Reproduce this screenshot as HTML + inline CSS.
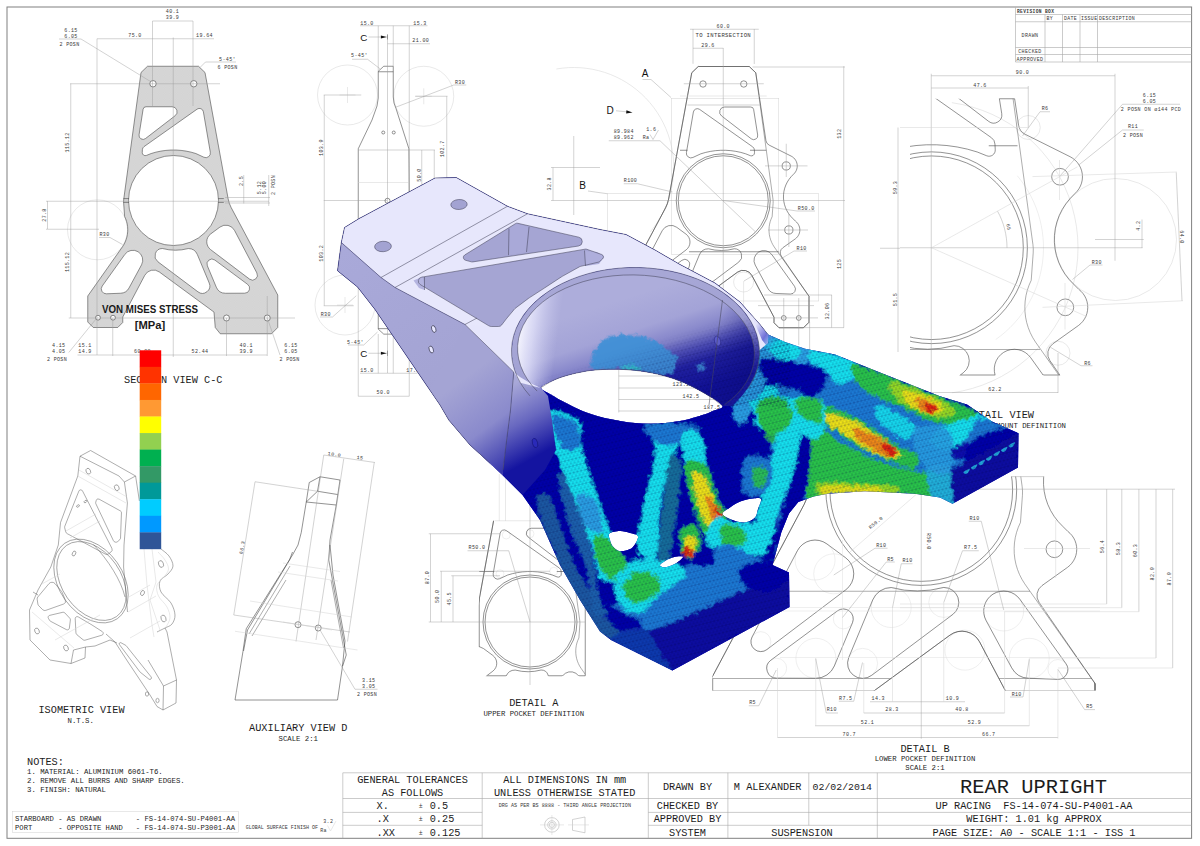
<!DOCTYPE html>
<html lang="en"><head><meta charset="utf-8"><title>Rear Upright - FS-14-074-SU-P4001-AA</title><style>
html,body{margin:0;padding:0;background:#fff}
svg{display:block}
.k{fill:none;stroke:#444;stroke-width:.58}
.k2{fill:none;stroke:#5c5c5c;stroke-width:.5}
.g{fill:none;stroke:#9c9c9c;stroke-width:.45}
.l{fill:none;stroke:#d2d2d2;stroke-width:.5}
.ll{fill:none;stroke:#dedede;stroke-width:.5}
.w{fill:#fff;stroke:#3c3c3c;stroke-width:.6}
.ar{fill:#111;stroke:none}
text{font-family:"Liberation Mono",monospace;fill:#1a1a1a}
.d{fill:#383838;letter-spacing:.35px}
.s{font-family:"Liberation Sans",sans-serif;fill:#111}
.b{font-family:"Liberation Sans",sans-serif;font-weight:bold;fill:#1a1a1a}
.m{fill:none;stroke:#00003a;stroke-width:.4;stroke-opacity:.36}
.tb{fill:none;stroke:#a8a8a8;stroke-width:.6}
.t{fill:#1c1c1c}
.e{fill:none;stroke:#45455c;stroke-width:.55}
</style></head><body>
<svg width="1200" height="846" viewBox="0 0 1200 846">
<defs>
<path id="pf" vector-effect="non-scaling-stroke" d="M-25 -134.25L26 -134.25L32.5 -128L42.69 -60.09A6 6 0 0 0 45.94 -55.61L67.96 -44.62L69.27 -43.83L70.47 -42.88L71.52 -41.76L72.4 -40.51L73.1 -39.15L73.61 -37.71L73.91 -36.21L74 -34.68L73.88 -33.15L73.54 -31.66L73 -30.23L72.27 -28.88L71.36 -27.65L70.29 -26.56L67.98 -24.16L65.88 -21.56L64.07 -18.74L62.6 -15.75L61.46 -12.6L60.68 -9.35L60.27 -6.03L60.23 -2.69L60.56 0.63L61.26 3.9L62.32 7.07L63.72 10.11L65.46 12.97L67.5 15.61L69.82 18.02L72.2 20.4L73.32 21.36L74.29 22.46L75.11 23.68L75.76 24.99L76.23 26.38L76.51 27.82L76.6 29.29L76.49 30.75L76.19 32.19L75.7 33.57L75.02 34.87L74.18 36.08L73.19 37.16L72.07 38.1L59.5 47.07A6 6 0 0 0 58.05 55.36L85.75 95.5L85.75 121.5L80.25 127L55.75 127L50.75 122L50.75 116.5L28.73 74.8A9.85 9.85 0 0 0 14.19 71.46L-40.5 111.6L-41.75 127L-46.75 133.25L-98 133.25L-104.25 127L-104.25 94.5L-57.69 7.11A30 30 0 0 0 -54.66 -1.59L-31.5 -128Z"/>
<path id="ps" vector-effect="non-scaling-stroke" d="M-25 -134.25L26 -134.25L32.5 -128L49.72 -1.57A20 20 0 0 1 49.85 2.58L48.88 15.96L47.81 18.38L46.95 20.89L46.32 23.46L45.92 26.08L45.76 28.72L45.82 31.37L46.12 34L46.65 36.59L47.41 39.13L48.38 41.59L49.57 43.95L50.97 46.21L85.75 95.5L85.75 121.5L80.25 127L55.75 127L50.75 122L50.75 116.5L28.73 74.8A9.85 9.85 0 0 0 14.19 71.46L-40.5 111.6L-41.75 127L-46.75 133.25L-98 133.25L-104.25 127L-104.25 94.5L-57.69 7.11A30 30 0 0 0 -54.66 -1.59L-31.5 -128Z"/>
<path id="pk" vector-effect="non-scaling-stroke" d="M-14.82 48.05A50.6 50.6 0 0 0 11.09 48A7.4 7.4 0 0 1 15.54 61.32L-24.46 91.32A7.4 7.4 0 0 1 -35.73 82.56L-23.89 54.11A9.85 9.85 0 0 1 -14.82 48.05ZM48.61 53.87L71.28 85.55A4.9 4.9 0 0 1 67.11 93.3L52.82 92.74A9.85 9.85 0 0 1 44.54 87.59L31.94 64.29A9.85 9.85 0 0 1 48.61 53.87ZM-33.88 65.39L-42.82 86.71A9.85 9.85 0 0 1 -51.93 92.75L-71.21 92.7A4.9 4.9 0 0 1 -74.12 83.86L-41.32 59.56A4.9 4.9 0 0 1 -33.88 65.39ZM-46.45 26.58L-37.25 33.38A9.85 9.85 0 0 1 -37.15 49.15L-76.04 78.61A4.9 4.9 0 0 1 -83.34 72.42L-61.02 29.92A9.85 9.85 0 0 1 -46.45 26.58ZM-1.66 -84.79A5 5 0 0 1 1.39 -93.75L27.44 -93.75A3 3 0 0 1 30.4 -91.22L34.43 -65.72A4 4 0 0 1 28.04 -61.93ZM-29.87 -88.75A4 4 0 0 1 -23.62 -91.35L29.41 -53.92A4 4 0 0 1 31.1 -50.86L31.25 -48.05A3.04 3.04 0 0 1 27.09 -45.07L22.4 -46.95L17.54 -48.35L12.59 -49.4L7.58 -50.1L2.53 -50.46L-2.53 -50.46L-7.58 -50.1L-12.59 -49.4L-17.54 -48.35L-22.4 -46.95L-30.35 -43.28A4.6 4.6 0 0 1 -36.82 -48.23Z"/>
<path id="ph" vector-effect="non-scaling-stroke" d="M-23.45 -116.75a3.2 3.2 0 1 0 6.4 0a3.2 3.2 0 1 0 -6.4 0ZM17.3 -116.75a3.2 3.2 0 1 0 6.4 0a3.2 3.2 0 1 0 -6.4 0ZM58.1 117.2a2.4 2.4 0 1 0 4.8 0a2.4 2.4 0 1 0 -4.8 0ZM73.1 117.2a2.4 2.4 0 1 0 4.8 0a2.4 2.4 0 1 0 -4.8 0ZM-56 117.5a3 3 0 1 0 6 0a3 3 0 1 0 -6 0ZM-96.75 117.5a3 3 0 1 0 6 0a3 3 0 1 0 -6 0Z"/>
<path id="plh" vector-effect="non-scaling-stroke" d="M58.9 -34.8a4.1 4.1 0 1 0 8.2 0a4.1 4.1 0 1 0 -8.2 0ZM61.5 29.2a4.1 4.1 0 1 0 8.2 0a4.1 4.1 0 1 0 -8.2 0Z"/>
<path id="pcc" vector-effect="non-scaling-stroke" d="M-24.65 57.9a9.85 9.85 0 1 0 19.7 0a9.85 9.85 0 1 0 -19.7 0ZM3.7 55.4a7.4 7.4 0 1 0 14.8 0a7.4 7.4 0 1 0 -14.8 0ZM-36.3 85.4a7.4 7.4 0 1 0 14.8 0a7.4 7.4 0 1 0 -14.8 0ZM30.75 59.6a9.85 9.85 0 1 0 19.7 0a9.85 9.85 0 1 0 -19.7 0ZM62.4 88.4a4.9 4.9 0 1 0 9.8 0a4.9 4.9 0 1 0 -9.8 0ZM43.35 82.9a9.85 9.85 0 1 0 19.7 0a9.85 9.85 0 1 0 -19.7 0ZM-43.3 63.5a4.9 4.9 0 1 0 9.8 0a4.9 4.9 0 1 0 -9.8 0ZM-61.75 82.9a9.85 9.85 0 1 0 19.7 0a9.85 9.85 0 1 0 -19.7 0ZM-76.1 87.8a4.9 4.9 0 1 0 9.8 0a4.9 4.9 0 1 0 -9.8 0ZM-62.15 34.5a9.85 9.85 0 1 0 19.7 0a9.85 9.85 0 1 0 -19.7 0ZM-52.95 41.3a9.85 9.85 0 1 0 19.7 0a9.85 9.85 0 1 0 -19.7 0ZM-83.9 74.7a4.9 4.9 0 1 0 9.8 0a4.9 4.9 0 1 0 -9.8 0ZM11.65 78.9a9.85 9.85 0 1 0 19.7 0a9.85 9.85 0 1 0 -19.7 0Z"/>
<path id="psh" d="M-25 -134.25L26 -134.25L32.5 -128L49.72 -1.57A20 20 0 0 1 49.85 2.58L48.88 15.96L47.81 18.38L46.95 20.89L46.32 23.46L45.92 26.08L45.76 28.72L45.82 31.37L46.12 34L46.65 36.59L47.41 39.13L48.38 41.59L49.57 43.95L50.97 46.21L85.75 95.5L85.75 121.5L80.25 127L55.75 127L50.75 122L50.75 116.5L28.73 74.8A9.85 9.85 0 0 0 14.19 71.46L-40.5 111.6L-41.75 127L-46.75 133.25L-98 133.25L-104.25 127L-104.25 94.5L-57.69 7.11A30 30 0 0 0 -54.66 -1.59L-31.5 -128ZM-14.82 48.05A50.6 50.6 0 0 0 11.09 48A7.4 7.4 0 0 1 15.54 61.32L-24.46 91.32A7.4 7.4 0 0 1 -35.73 82.56L-23.89 54.11A9.85 9.85 0 0 1 -14.82 48.05ZM48.61 53.87L71.28 85.55A4.9 4.9 0 0 1 67.11 93.3L52.82 92.74A9.85 9.85 0 0 1 44.54 87.59L31.94 64.29A9.85 9.85 0 0 1 48.61 53.87ZM-33.88 65.39L-42.82 86.71A9.85 9.85 0 0 1 -51.93 92.75L-71.21 92.7A4.9 4.9 0 0 1 -74.12 83.86L-41.32 59.56A4.9 4.9 0 0 1 -33.88 65.39ZM-46.45 26.58L-37.25 33.38A9.85 9.85 0 0 1 -37.15 49.15L-76.04 78.61A4.9 4.9 0 0 1 -83.34 72.42L-61.02 29.92A9.85 9.85 0 0 1 -46.45 26.58ZM-1.66 -84.79A5 5 0 0 1 1.39 -93.75L27.44 -93.75A3 3 0 0 1 30.4 -91.22L34.43 -65.72A4 4 0 0 1 28.04 -61.93ZM-29.87 -88.75A4 4 0 0 1 -23.62 -91.35L29.41 -53.92A4 4 0 0 1 31.1 -50.86L31.25 -48.05A3.04 3.04 0 0 1 27.09 -45.07L22.4 -46.95L17.54 -48.35L12.59 -49.4L7.58 -50.1L2.53 -50.46L-2.53 -50.46L-7.58 -50.1L-12.59 -49.4L-17.54 -48.35L-22.4 -46.95L-30.35 -43.28A4.6 4.6 0 0 1 -36.82 -48.23ZM-45 0a45 45 0 1 0 90 0a45 45 0 1 0 -90 0Z"/>
<path id="pfk" clip-rule="evenodd" d="M-25 -134.25L26 -134.25L32.5 -128L42.69 -60.09A6 6 0 0 0 45.94 -55.61L67.96 -44.62L69.27 -43.83L70.47 -42.88L71.52 -41.76L72.4 -40.51L73.1 -39.15L73.61 -37.71L73.91 -36.21L74 -34.68L73.88 -33.15L73.54 -31.66L73 -30.23L72.27 -28.88L71.36 -27.65L70.29 -26.56L67.98 -24.16L65.88 -21.56L64.07 -18.74L62.6 -15.75L61.46 -12.6L60.68 -9.35L60.27 -6.03L60.23 -2.69L60.56 0.63L61.26 3.9L62.32 7.07L63.72 10.11L65.46 12.97L67.5 15.61L69.82 18.02L72.2 20.4L73.32 21.36L74.29 22.46L75.11 23.68L75.76 24.99L76.23 26.38L76.51 27.82L76.6 29.29L76.49 30.75L76.19 32.19L75.7 33.57L75.02 34.87L74.18 36.08L73.19 37.16L72.07 38.1L59.5 47.07A6 6 0 0 0 58.05 55.36L85.75 95.5L85.75 121.5L80.25 127L55.75 127L50.75 122L50.75 116.5L28.73 74.8A9.85 9.85 0 0 0 14.19 71.46L-40.5 111.6L-41.75 127L-46.75 133.25L-98 133.25L-104.25 127L-104.25 94.5L-57.69 7.11A30 30 0 0 0 -54.66 -1.59L-31.5 -128ZM-14.82 48.05A50.6 50.6 0 0 0 11.09 48A7.4 7.4 0 0 1 15.54 61.32L-24.46 91.32A7.4 7.4 0 0 1 -35.73 82.56L-23.89 54.11A9.85 9.85 0 0 1 -14.82 48.05ZM48.61 53.87L71.28 85.55A4.9 4.9 0 0 1 67.11 93.3L52.82 92.74A9.85 9.85 0 0 1 44.54 87.59L31.94 64.29A9.85 9.85 0 0 1 48.61 53.87ZM-33.88 65.39L-42.82 86.71A9.85 9.85 0 0 1 -51.93 92.75L-71.21 92.7A4.9 4.9 0 0 1 -74.12 83.86L-41.32 59.56A4.9 4.9 0 0 1 -33.88 65.39ZM-46.45 26.58L-37.25 33.38A9.85 9.85 0 0 1 -37.15 49.15L-76.04 78.61A4.9 4.9 0 0 1 -83.34 72.42L-61.02 29.92A9.85 9.85 0 0 1 -46.45 26.58ZM-1.66 -84.79A5 5 0 0 1 1.39 -93.75L27.44 -93.75A3 3 0 0 1 30.4 -91.22L34.43 -65.72A4 4 0 0 1 28.04 -61.93ZM-29.87 -88.75A4 4 0 0 1 -23.62 -91.35L29.41 -53.92A4 4 0 0 1 31.1 -50.86L31.25 -48.05A3.04 3.04 0 0 1 27.09 -45.07L22.4 -46.95L17.54 -48.35L12.59 -49.4L7.58 -50.1L2.53 -50.46L-2.53 -50.46L-7.58 -50.1L-12.59 -49.4L-17.54 -48.35L-22.4 -46.95L-30.35 -43.28A4.6 4.6 0 0 1 -36.82 -48.23ZM-45 0a45 45 0 1 0 90 0a45 45 0 1 0 -90 0Z"/>
<pattern id="hat" width="1.7" height="1.7" patternUnits="userSpaceOnUse" patternTransform="rotate(-45)"><rect width="1.7" height="1.7" fill="#f6f6f6"/><line x1="0" y1=".85" x2="1.7" y2=".85" stroke="#808080" stroke-width=".48"/></pattern>
<path id="sil" d="M344.5 227.5 L358.75 218.75 L435 178 L456.25 177.5 L507.5 206.25 L527.5 213.75 L600 229.5 L626 234.5 L655 250 L680 264.5 L715 283 L740 302 L760 324.5 L768 334.5 L785 342 L805 348.75 L835 354.5 L880 372.5 L940 396.25 L967 404.5 L992 421.5 L1018.5 433.3 L1018 467.5 L952.5 503.75 L940 497.5 L915 493.75 L865 491.25 L827.5 493.75 L813.5 496.5 L798.3 502 L789 513.5 L781.3 532.4 L775 556 L772.5 565 L789 572.5 L789.5 607 L672.4 670.6 L611 640 L600 631.5 L580 600 L560 565 L540 520 L522.5 495 L502.5 475 L470 445 L448.75 420 L440 405 L417.5 372 L375 309.5 L357.5 287 L337.5 270.75 L341.3 242.5ZM541 387.5C541.33 385.17 549 382.42 553 380.5C557 378.58 560.5 377.37 565 376C569.5 374.63 575 373.3 580 372.3C585 371.3 588.33 370.5 595 370C601.67 369.5 610.83 368.88 620 369.3C629.17 369.72 640 370.55 650 372.5C660 374.45 670.42 377.25 680 381C689.58 384.75 700.42 390.83 707.5 395C714.58 399.17 721.58 403.33 722.5 406C723.42 408.67 716.33 409.5 713 411C709.67 412.5 708 413.33 702.5 415C697 416.67 688.75 419.54 680 421C671.25 422.46 660 423.75 650 423.75C640 423.75 630 422.67 620 421C610 419.33 599.17 416.83 590 413.75C580.83 410.67 571.5 405.71 565 402.5C558.5 399.29 555 397 551 394.5C547 392 540.67 389.83 541 387.5ZM609.5 533.5C611.17 532 616.58 531.08 620 531C623.42 530.92 627 532.08 630 533C633 533.92 637.5 534.17 638 536.5C638.5 538.83 635 544.67 633 547C631 549.33 628.33 549.83 626 550.5C623.67 551.17 621.25 551.75 619 551C616.75 550.25 614 547.83 612.5 546C611 544.17 610.5 542.08 610 540C609.5 537.92 607.83 535 609.5 533.5ZM660 565C660.25 563.95 663.33 562.08 665 561C666.67 559.92 668 559.23 670 558.5C672 557.77 674.83 556.85 677 556.6C679.17 556.35 682.83 556.1 683 557C683.17 557.9 680.17 560.5 678 562C675.83 563.5 672.42 565.12 670 566C667.58 566.88 665.17 567.47 663.5 567.3C661.83 567.13 659.75 566.05 660 565ZM722.5 514C722.08 511.92 727.58 509.33 730 507.5C732.42 505.67 734.5 504.25 737 503C739.5 501.75 742.33 500.75 745 500C747.67 499.25 750.33 498.67 753 498.5C755.67 498.33 760.17 497.25 761 499C761.83 500.75 759 505.92 758 509C757 512.08 757.17 515.25 755 517.5C752.83 519.75 748.75 522.08 745 522.5C741.25 522.92 736.25 521.42 732.5 520C728.75 518.58 722.92 516.08 722.5 514Z"/>
<clipPath id="csil"><use href="#sil" clip-rule="evenodd"/></clipPath>
<clipPath id="cbin"><path d="M500 250 L790 250 L790 407 L722.5 406 L713 411 L702.5 415 L680 421 L650 423.75 L620 421 L590 413.75 L565 402.5 L551 394.5 L541 387.5 L500 386Z"/></clipPath>
<filter id="bl" x="-20%" y="-20%" width="140%" height="140%"><feGaussianBlur stdDeviation="1.6"/></filter>
<filter id="jag" x="-5%" y="-5%" width="110%" height="110%"><feTurbulence type="fractalNoise" baseFrequency="0.22" numOctaves="2" seed="7" result="n"/><feDisplacementMap in="SourceGraphic" in2="n" scale="7" xChannelSelector="R" yChannelSelector="G"/></filter>
<filter id="jagb" filterUnits="userSpaceOnUse" x="330" y="170" width="700" height="510"><feGaussianBlur stdDeviation="0.9" result="b"/><feTurbulence type="fractalNoise" baseFrequency="0.2" numOctaves="2" seed="7" result="n"/><feDisplacementMap in="b" in2="n" scale="8" xChannelSelector="R" yChannelSelector="G"/></filter>
<filter id="bl2" x="-20%" y="-20%" width="140%" height="140%"><feGaussianBlur stdDeviation="3"/></filter>
<filter id="bl3" x="-30%" y="-30%" width="160%" height="160%"><feGaussianBlur stdDeviation="7"/></filter>
<pattern id="mesh" width="3.8" height="6.6" patternUnits="userSpaceOnUse" patternTransform="rotate(-14) skewX(-8)"><path class="m" d="M0 0H3.8M0 3.3H3.8M0 0L1.9 3.3L3.8 0M0 6.6L1.9 3.3L3.8 6.6"/></pattern>
<linearGradient id="gbore" gradientUnits="userSpaceOnUse" x1="620" y1="300" x2="654" y2="404.5"><stop offset="0" stop-color="#adaddb"/><stop offset=".3" stop-color="#a3a3d7"/><stop offset=".5" stop-color="#8282c9"/><stop offset=".63" stop-color="#4c4cb5"/><stop offset=".76" stop-color="#2222a3"/><stop offset="1" stop-color="#12129b"/></linearGradient>
<linearGradient id="gband" gradientUnits="userSpaceOnUse" x1="620" y1="300" x2="654" y2="404.5"><stop offset="0" stop-color="#a7a7d6"/><stop offset=".5" stop-color="#a0a0d3"/><stop offset=".7" stop-color="#6a6abf"/><stop offset=".9" stop-color="#2c2ca4"/><stop offset="1" stop-color="#1a1a9c"/></linearGradient>
<linearGradient id="gmb" gradientUnits="userSpaceOnUse" x1="620" y1="300" x2="654" y2="404.5"><stop offset=".45" stop-color="#000"/><stop offset=".7" stop-color="#fff"/></linearGradient>
<mask id="mbore" maskUnits="userSpaceOnUse" x="500" y="250" width="290" height="180"><rect x="500" y="250" width="290" height="180" fill="url(#gmb)"/></mask>
<linearGradient id="gboreh" gradientUnits="userSpaceOnUse" x1="518" y1="345" x2="556" y2="350"><stop offset="0" stop-color="#f6f6ff" stop-opacity=".95"/><stop offset=".35" stop-color="#e8e8fd" stop-opacity=".7"/><stop offset="1" stop-color="#d0d0f2" stop-opacity="0"/></linearGradient>
<linearGradient id="gborer" gradientUnits="userSpaceOnUse" x1="715" y1="335" x2="760" y2="350"><stop offset="0" stop-color="#0a0a7a" stop-opacity="0"/><stop offset="1" stop-color="#0a0a7a" stop-opacity=".4"/></linearGradient>
<linearGradient id="gside" gradientUnits="userSpaceOnUse" x1="455" y1="385" x2="525" y2="480"><stop offset="0" stop-color="#a4a4d4"/><stop offset=".45" stop-color="#8a8acc"/><stop offset=".8" stop-color="#3c3cae"/><stop offset="1" stop-color="#1414a0"/></linearGradient>
<linearGradient id="gcyl" gradientUnits="userSpaceOnUse" x1="512" y1="385" x2="548" y2="450"><stop offset="0" stop-color="#a8a8d8"/><stop offset=".5" stop-color="#6868c0"/><stop offset="1" stop-color="#1414a0"/></linearGradient>
<linearGradient id="gtopr" gradientUnits="userSpaceOnUse" x1="755" y1="326" x2="778" y2="342"><stop offset="0" stop-color="#e3e3fb"/><stop offset=".5" stop-color="#7070d8"/><stop offset="1" stop-color="#2090e0" stop-opacity="0"/></linearGradient>
<linearGradient id="gside0" gradientUnits="userSpaceOnUse" x1="340" y1="250" x2="470" y2="420"><stop offset="0" stop-color="#a9a9d9"/><stop offset="1" stop-color="#a2a2d2"/></linearGradient>
<clipPath id="cda"><rect x="479.25" y="520.75" width="106" height="155"/></clipPath>
<clipPath id="cdb"><rect x="712.5" y="476.6" width="479" height="213.9"/></clipPath>
<clipPath id="cdv"><rect x="910" y="98.75" width="281" height="276.25"/></clipPath>
<clipPath id="cpa"><use href="#pfk" transform="translate(530 622)"/></clipPath>
<clipPath id="cpb"><use href="#pfk" transform="translate(921.25 490) scale(2.03)"/></clipPath>
<clipPath id="cpv"><use href="#pfk" transform="translate(931.5 247.75) scale(2.04)"/></clipPath>
</defs>
<rect width="1200" height="846" fill="#fff"/>
<rect x="7" y="7" width="1184.6" height="831.3" fill="none" stroke="#808080" stroke-width="1"/>
<circle class="l" cx="97.5" cy="229.8" r="30"/>
<g transform="translate(173.5 200.5) scale(-1 1)" style="vector-effect:non-scaling-stroke">
<use href="#psh" fill="url(#hat)" fill-rule="evenodd" stroke="none"/>
<use href="#ps" class="k" vector-effect="non-scaling-stroke"/>
<use href="#pk" class="k" vector-effect="non-scaling-stroke"/>
<use href="#ph" class="w" vector-effect="non-scaling-stroke"/>
<circle r="45" class="k" vector-effect="non-scaling-stroke"/>
</g>
<path class="k" d="M123.4 198.6L129 198.6"/>
<path class="k" d="M123.4 202.4L129 202.4"/>
<path class="k" d="M218.2 198.6L223.8 198.6"/>
<path class="k" d="M218.2 202.4L223.8 202.4"/>
<text class="d" x="172.5" y="13" font-size="5" text-anchor="middle">40.1</text>
<text class="d" x="172.5" y="18.75" font-size="5" text-anchor="middle">39.9</text>
<path class="g" d="M152.5 21L193 21"/>
<text class="d" x="135" y="37.3" font-size="5" text-anchor="middle">75.0</text>
<text class="d" x="204.5" y="37.3" font-size="5" text-anchor="middle">19.64</text>
<path class="g" d="M97 38.75L214 38.75"/>
<text class="d" x="71" y="31.8" font-size="5" text-anchor="middle">6.15</text>
<text class="d" x="71" y="37.55" font-size="5" text-anchor="middle">6.05</text>
<path class="g" d="M59 39L81 39"/>
<text class="d" x="69.5" y="46.3" font-size="5" text-anchor="middle">2 POSN</text>
<path class="g" d="M81 39L150.5 81.5"/>
<text class="d" x="227.5" y="60.8" font-size="5" text-anchor="middle">5·45'</text>
<path class="g" d="M205.5 62L236 62"/>
<text class="d" x="227.5" y="68.8" font-size="5" text-anchor="middle">6 POSN</text>
<path class="g" d="M205.5 62L200 67.5"/>
<path class="g" d="M97 38.75L97 355"/>
<path class="g" d="M152.5 21L152.5 106"/>
<path class="g" d="M193 21L193 106"/>
<path class="g" d="M173.25 37.5L173.25 357"/>
<path class="g" d="M70 83.75L220 83.75"/>
<text class="d" x="67" y="144.3" font-size="5" text-anchor="middle" transform="rotate(-90 67 142.5)">115.12</text>
<path class="g" d="M70.75 83.75L70.75 318"/>
<text class="d" x="67" y="263.8" font-size="5" text-anchor="middle" transform="rotate(-90 67 262)">115.12</text>
<path class="g" d="M46 201.25L269 201.25"/>
<text class="d" x="44" y="216.8" font-size="5" text-anchor="middle" transform="rotate(-90 44 215)">27.8</text>
<path class="g" d="M47.5 201L47.5 229"/>
<path class="g" d="M46 229.25L99 229.25"/>
<text class="d" x="104.5" y="235.55" font-size="5" text-anchor="middle">R30</text>
<path class="g" d="M99 237.5L110 237.5"/>
<path class="g" d="M110 237.5L122.5 244.5"/>
<text class="d" x="241" y="182.8" font-size="5" text-anchor="middle" transform="rotate(-90 241 181)">2.5</text>
<text class="d" x="258.75" y="189.3" font-size="5" text-anchor="middle" transform="rotate(-90 258.75 187.5)">5.12</text>
<text class="d" x="263.9" y="189.3" font-size="5" text-anchor="middle" transform="rotate(-90 263.9 187.5)">5.00</text>
<text class="d" x="273" y="186.8" font-size="5" text-anchor="middle" transform="rotate(-90 273 185)">2 POSN</text>
<path class="g" d="M243.75 175L243.75 203.5"/>
<path class="g" d="M268.75 175L268.75 206"/>
<path class="g" d="M225 197.5L270 197.5"/>
<path class="g" d="M225 203L270 203"/>
<path class="g" d="M68.75 318L295 318"/>
<path class="g" d="M77.5 355L267 355"/>
<text class="d" x="58.75" y="347.3" font-size="5" text-anchor="middle">4.15</text>
<text class="d" x="58.75" y="353.05" font-size="5" text-anchor="middle">4.05</text>
<text class="d" x="57" y="361.3" font-size="5" text-anchor="middle">2 POSN</text>
<text class="d" x="85" y="347.3" font-size="5" text-anchor="middle">15.1</text>
<text class="d" x="85" y="353.05" font-size="5" text-anchor="middle">14.9</text>
<text class="d" x="142.5" y="353.05" font-size="5" text-anchor="middle">60.00</text>
<text class="d" x="200" y="353.05" font-size="5" text-anchor="middle">52.44</text>
<text class="d" x="246.25" y="347.3" font-size="5" text-anchor="middle">40.1</text>
<text class="d" x="246.25" y="353.05" font-size="5" text-anchor="middle">39.9</text>
<text class="d" x="291" y="347.3" font-size="5" text-anchor="middle">6.15</text>
<text class="d" x="291" y="353.05" font-size="5" text-anchor="middle">6.05</text>
<text class="d" x="289.5" y="361.3" font-size="5" text-anchor="middle">2 POSN</text>
<path class="g" d="M68.75 352.5L96.25 318.75"/>
<path class="g" d="M280 355L267.5 318.5"/>
<path class="g" d="M112.75 318L112.75 356"/>
<path class="g" d="M226.5 318L226.5 356"/>
<path class="g" d="M267.25 296L267.25 356"/>
<circle class="l" cx="347.5" cy="95" r="30"/>
<path class="l" d="M339.5 95L355.5 95"/>
<path class="l" d="M347.5 87L347.5 103"/>
<circle class="l" cx="423.75" cy="96.25" r="30"/>
<path class="l" d="M415.75 96.25L431.75 96.25"/>
<path class="l" d="M423.75 88.25L423.75 104.25"/>
<circle class="l" cx="345" cy="305" r="30"/>
<path class="l" d="M337 305L353 305"/>
<path class="l" d="M345 297L345 313"/>
<circle class="l" cx="424" cy="305" r="30"/>
<path class="l" d="M416 305L432 305"/>
<path class="l" d="M424 297L424 313"/>
<path class="k" d="M378.25 71.25 L383.75 66.25 L393.25 66.25"/>
<path class="k" d="M378.25 71.25 L378.25 98 L377 106 L372 120 L358.25 148.75 L358.25 200.2"/>
<path class="k" d="M393.25 66.25 L393.25 97 L394 103 L396 108.5 L408.9 148.75 L409.25 200.2"/>
<path class="k" d="M378.25 71.75L393.25 71.75"/>
<path class="g" d="M358.25 150L409.25 150"/>
<path class="l" d="M358.25 182.5L409.25 182.5"/>
<circle class="k" cx="383.25" cy="132.5" r="1.5"/>
<circle class="k" cx="393.75" cy="132.5" r="1.5"/>
<path class="k" d="M378.25 329.15 L378.25 302.4 L377 294.4 L372 280.4 L358.25 251.65 L358.25 200.2"/>
<path class="k" d="M393.25 334.15 L393.25 303.4 L394 297.4 L396 291.9 L408.9 251.65 L409.25 200.2"/>
<path class="k" d="M378.25 328.65L393.25 328.65"/>
<path class="g" d="M358.25 250.4L409.25 250.4"/>
<path class="l" d="M358.25 217.9L409.25 217.9"/>
<circle class="k" cx="383.25" cy="267.9" r="1.5"/>
<circle class="k" cx="393.75" cy="267.9" r="1.5"/>
<path class="k" d="M378.25 329.15 L383.75 334.15 L393.25 334.15"/>
<text class="d" x="367" y="24.8" font-size="5" text-anchor="middle">15.0</text>
<text class="d" x="420" y="24.8" font-size="5" text-anchor="middle">15.3</text>
<path class="g" d="M360 25.75L427.5 25.75"/>
<text class="s" x="363.75" y="40.53" font-size="9.8" text-anchor="middle">C</text>
<path class="g" d="M368.5 37L387.5 37"/>
<path class="ar" d="M386.6 37 L380.88 35.5 L380.88 38.5Z"/>
<path class="k" d="M387.5 34.4L387.5 39.6"/>
<text class="s" x="363.75" y="356.78" font-size="9.8" text-anchor="middle">C</text>
<path class="g" d="M368.5 353.25L387.5 353.25"/>
<path class="ar" d="M386.6 353.25 L380.88 351.75 L380.88 354.75Z"/>
<path class="k" d="M387.5 350.65L387.5 355.85"/>
<text class="d" x="420.75" y="41.8" font-size="5" text-anchor="middle">21.00</text>
<path class="g" d="M387.5 43.75L430 43.75"/>
<text class="d" x="359.5" y="57.3" font-size="5" text-anchor="middle">5·45'</text>
<path class="g" d="M352 59.25L367.5 59.25"/>
<path class="g" d="M367.5 59.25L380 68.75"/>
<path class="g" d="M378.25 25.75L378.25 71"/>
<path class="g" d="M387.5 39.5L387.5 373"/>
<path class="g" d="M393.25 25.75L393.25 66"/>
<path class="g" d="M409.25 25.75L409.25 396.25"/>
<text class="d" x="460" y="83.55" font-size="5" text-anchor="middle">R30</text>
<path class="g" d="M453.75 85L466.25 85"/>
<path class="g" d="M453.75 85L395 107.5"/>
<path class="g" d="M409.25 150L435 150"/>
<text class="d" x="321.25" y="149.3" font-size="5" text-anchor="middle" transform="rotate(-90 321.25 147.5)">103.9</text>
<path class="g" d="M324.25 95L324.25 305.75"/>
<path class="g" d="M323.75 95L361.25 95"/>
<text class="d" x="442.5" y="150.55" font-size="5" text-anchor="middle" transform="rotate(-90 442.5 148.75)">102.7</text>
<path class="g" d="M446.75 96.25L446.75 200"/>
<path class="g" d="M415 96.25L447.5 96.25"/>
<text class="d" x="418.75" y="176.8" font-size="5" text-anchor="middle" transform="rotate(-90 418.75 175)">50.0</text>
<path class="g" d="M421.75 150L421.75 200"/>
<path class="g" d="M434.25 150L434.25 200"/>
<path class="g" d="M323.75 200.5L387 200.5"/>
<circle class="k" cx="387.5" cy="200.75" r="2.5"/>
<text class="d" x="321.25" y="255.05" font-size="5" text-anchor="middle" transform="rotate(-90 321.25 253.25)">103.2</text>
<path class="g" d="M323.75 305.75L353.75 305.75"/>
<text class="d" x="325.75" y="316.3" font-size="5" text-anchor="middle">R30</text>
<path class="g" d="M320 317L332.5 317"/>
<path class="g" d="M332.5 317L356.25 295.75"/>
<text class="d" x="355.5" y="344.3" font-size="5" text-anchor="middle">5·45'</text>
<path class="g" d="M348 345L363.75 345"/>
<path class="g" d="M363.75 345L377.5 332"/>
<text class="d" x="367" y="371.8" font-size="5" text-anchor="middle">15.0</text>
<text class="d" x="413" y="371.8" font-size="5" text-anchor="middle">17.5</text>
<path class="g" d="M360 373.25L417.5 373.25"/>
<text class="d" x="383.25" y="394.3" font-size="5" text-anchor="middle">50.0</text>
<path class="g" d="M358.25 396.25L409.25 396.25"/>
<path class="g" d="M358.25 250L358.25 396.25"/>
<path class="g" d="M378.25 334L378.25 373.25"/>
<path class="g" d="M393.25 334L393.25 373.25"/>
<path class="l" d="M556.39 69.02 L562.43 68.14 L568.52 67.64 L574.62 67.5 L580.73 67.74 L586.8 68.36 L592.83 69.34 L598.79 70.69 L604.65 72.39 L610.4 74.46 L616.01 76.87 L621.47 79.62 L626.74 82.7 L631.82 86.09 L636.68 89.79 L641.31 93.77 L645.68 98.03 L649.79 102.56 L653.61 107.32 L657.14 112.31 L660.35 117.5 L663.24 122.88 L665.8 128.43 L668.01 134.12 L669.88 139.94 L671.38 145.86 L672.52 151.86 L673.29 157.92 L673.69 164.01 L673.72 170.12 L673.37 176.22 L672.65 182.28 L671.56 188.29 L670.11 194.22 L668.3 200.06 L666.14 205.77 L663.63 211.34 L660.79 216.74 L657.62 221.96 L654.14 226.98 L650.35 231.78"/>
<path class="g" d="M573.75 136L573.75 215"/>
<path class="g" d="M551 167.5L600 167.5"/>
<text class="d" x="549" y="185.55" font-size="5" text-anchor="middle" transform="rotate(-90 549 183.75)">32.8</text>
<path class="g" d="M553 167.5L553 200.5"/>
<rect class="l" x="671.25" y="98.25" width="107.5" height="156"/>
<rect class="l" x="607.5" y="193.75" width="211.25" height="107.25"/>
<circle class="l" cx="743.6" cy="282" r="10"/>
<g transform="translate(723.25 200.75) scale(1 1)" style="vector-effect:non-scaling-stroke">
<use href="#ps" class="k2" vector-effect="non-scaling-stroke"/>
<use href="#pf" class="k" vector-effect="non-scaling-stroke"/>
<use href="#plh" class="k" vector-effect="non-scaling-stroke"/>
<use href="#pk" class="k" vector-effect="non-scaling-stroke"/>
<use href="#ph" class="k" vector-effect="non-scaling-stroke"/>
<circle r="45" class="k" vector-effect="non-scaling-stroke"/>
<circle r="47" class="k" vector-effect="non-scaling-stroke"/>
</g>
<path class="k" d="M680 150.25L687.5 150.25"/>
<path class="k" d="M750 150.25L766.25 150.25"/>
<path class="k" d="M689 251.75L778.75 251.75"/>
<text class="d" x="723.25" y="27.55" font-size="5" text-anchor="middle">60.0</text>
<path class="g" d="M690 29.25L758.75 29.25"/>
<text class="d" x="723.25" y="36.52" font-size="5.6" text-anchor="middle">TO INTERSECTION</text>
<text class="d" x="708" y="46.8" font-size="5" text-anchor="middle">29.6</text>
<path class="g" d="M693 48.25L723.25 48.25"/>
<path class="g" d="M693 29L693 63.75"/>
<path class="g" d="M754.25 29L754.25 64"/>
<path class="g" d="M723.25 48L723.25 340"/>
<path class="g" d="M683.75 83.75L763.75 83.75"/>
<path class="l" d="M680 96L766.7 96"/>
<path class="g" d="M687.5 105L760 105"/>
<path class="g" d="M765 165.9L807.5 165.9"/>
<path class="g" d="M786.25 143.75L786.25 177"/>
<path class="g" d="M768 230L808 230"/>
<path class="g" d="M788.85 214L788.85 247"/>
<text class="d" x="839.5" y="135.55" font-size="5" text-anchor="middle" transform="rotate(-90 839.5 133.75)">132</text>
<path class="g" d="M843.75 66.25L843.75 327.6"/>
<path class="g" d="M752.5 67L845 67"/>
<text class="s" x="645" y="77.35" font-size="10" text-anchor="middle">A</text>
<path class="g" d="M642.5 79.5 L651 79.5 L671 97.5"/>
<text class="s" x="610" y="113.6" font-size="10" text-anchor="middle">D</text>
<path class="g" d="M616 110.75L628 112"/>
<path class="ar" d="M632.5 112.6 L626.46 110.32 L626.12 113.57Z"/>
<text class="d" x="623.75" y="133.05" font-size="5" text-anchor="middle">89.984</text>
<text class="d" x="623.75" y="138.8" font-size="5" text-anchor="middle">89.962</text>
<text class="d" x="651.25" y="130.55" font-size="5" text-anchor="middle">1.6</text>
<text class="d" x="646" y="139.3" font-size="5" text-anchor="middle">Ra</text>
<path class="g" d="M650 134.5 L653 139.5 L658.5 130"/>
<path class="g" d="M608.75 140.75L660 140.75"/>
<path class="g" d="M660 140.75L755.6 232"/>
<text class="d" x="630.5" y="181.8" font-size="5" text-anchor="middle">R100</text>
<path class="g" d="M623.75 183.75L637.5 183.75"/>
<path class="g" d="M637.5 183.75L672.5 192"/>
<text class="s" x="582.5" y="188.6" font-size="10" text-anchor="middle">B</text>
<path class="g" d="M588 191L607.5 193.75"/>
<path class="g" d="M551 200.5L845 200.5"/>
<text class="d" x="806.25" y="210.4" font-size="5" text-anchor="middle">R50.0</text>
<path class="g" d="M797 211L815 211"/>
<path class="g" d="M797 211L723.25 200.5"/>
<text class="d" x="801.6" y="250.4" font-size="5" text-anchor="middle">R10</text>
<path class="g" d="M794 251L807 251"/>
<path class="g" d="M794 251L744 281"/>
<text class="d" x="827.6" y="312.8" font-size="5" text-anchor="middle" transform="rotate(-90 827.6 311)">32.06</text>
<path class="g" d="M831.6 295L831.6 327.6"/>
<path class="g" d="M764 295L832 295"/>
<path class="g" d="M804 327.6L844 327.6"/>
<text class="d" x="839" y="265.8" font-size="5" text-anchor="middle" transform="rotate(-90 839 264)">125</text>
<path class="l" d="M743.6 281L743.6 345"/>
<path class="g" d="M783.75 298L783.75 345"/>
<path class="g" d="M798.75 298L798.75 345"/>
<path class="g" d="M809.6 322L809.6 350"/>
<path class="g" d="M758 305.6L814 305.6"/>
<path class="g" d="M760 317.9L818 317.9"/>
<path class="g" d="M618.75 370L618.75 412.5"/>
<path class="g" d="M618.75 376L745 376"/>
<path class="g" d="M618.75 388L745 388"/>
<text class="d" x="681" y="386.3" font-size="5" text-anchor="middle">123.5</text>
<path class="g" d="M618.75 399.5L745 399.5"/>
<text class="d" x="691" y="397.8" font-size="5" text-anchor="middle">142.5</text>
<path class="g" d="M618.75 411L745 411"/>
<text class="d" x="712" y="409.3" font-size="5" text-anchor="middle">187.5</text>
<circle class="l" cx="1028.25" cy="127.5" r="12"/>
<circle class="l" cx="1058" cy="353.25" r="12"/>
<circle class="l" cx="1115.5" cy="239.5" r="61"/>
<path class="l" d="M951.89 102.68 L962.21 104.5 L972.37 107.07 L982.33 110.35 L992.02 114.33 L1001.4 119 L1010.43 124.33 L1019.05 130.29 L1027.23 136.85 L1034.91 143.98 L1042.06 151.64 L1048.65 159.79 L1054.64 168.39 L1060 177.4 L1064.7 186.76 L1068.72 196.44 L1072.04 206.39 L1074.64 216.54 L1076.5 226.85 L1077.63 237.28 L1078 247.75 L1077.63 258.22 L1076.5 268.65 L1074.64 278.96 L1072.04 289.11 L1068.72 299.06 L1064.7 308.74 L1060 318.1 L1054.64 327.11 L1048.65 335.71 L1042.06 343.86 L1034.91 351.52 L1027.23 358.65 L1019.05 365.21 L1010.43 371.17 L1001.4 376.5 L992.02 381.17 L982.33 385.15 L972.37 388.43 L962.21 391 L951.89 392.82"/>
<path class="ll" d="M1017.3 175.76 L1021.14 180.61 L1024.71 185.66 L1028 190.91 L1031 196.32 L1033.68 201.9 L1036.06 207.61 L1038.12 213.45 L1039.85 219.39 L1041.25 225.42 L1042.32 231.52 L1043.04 237.66 L1043.43 243.84 L1043.48 250.03 L1043.18 256.21 L1042.54 262.37 L1041.56 268.48 L1040.25 274.53 L1038.61 280.5 L1036.63 286.36 L1034.34 292.11 L1031.73 297.72 L1028.82 303.18 L1025.61 308.48 L1022.11 313.58 L1018.33 318.49 L1014.29 323.18 L1010 327.63 L1005.47 331.85 L1000.71 335.81 L995.74 339.5"/>
<g clip-path="url(#cdv)">
<g transform="translate(931.5 247.75) scale(2.04 2.04)" style="vector-effect:non-scaling-stroke">
<use href="#ps" class="k2" vector-effect="non-scaling-stroke"/>
<use href="#pf" class="k" vector-effect="non-scaling-stroke"/>
<use href="#plh" class="k" vector-effect="non-scaling-stroke"/>
<use href="#pk" class="k" vector-effect="non-scaling-stroke"/>
<use href="#ph" class="k" vector-effect="non-scaling-stroke"/>
<circle r="45" class="k" vector-effect="non-scaling-stroke"/>
<circle r="47" class="k" vector-effect="non-scaling-stroke"/>
</g>
</g>
<g clip-path="url(#cpv)">
<path class="k" d="M910 375L1070 375"/>
<path class="k" d="M996 98.75L1020 98.75"/>
</g>
<path class="k2" d="M910 349.5L1040 349.5"/>
<path class="k" d="M988.75 145.75L1017.5 145.75"/>
<text class="d" x="1022.5" y="74.3" font-size="5" text-anchor="middle">90.0</text>
<path class="g" d="M931.25 75.75L1115 75.75"/>
<text class="d" x="980" y="86.8" font-size="5" text-anchor="middle">47.6</text>
<path class="g" d="M931.25 88L1028.25 88"/>
<path class="g" d="M931.25 73.75L931.25 395"/>
<path class="g" d="M1028.25 86L1028.25 127.5"/>
<path class="g" d="M1115 73.75L1115 260.75"/>
<text class="d" x="1045" y="110.05" font-size="5" text-anchor="middle">R6</text>
<path class="g" d="M1040 111.75L1050 111.75"/>
<path class="g" d="M1040 111.75L1022.5 136"/>
<text class="d" x="1149.5" y="96.8" font-size="5" text-anchor="middle">6.15</text>
<text class="d" x="1149.5" y="102.55" font-size="5" text-anchor="middle">6.05</text>
<path class="g" d="M1122.5 104.25L1180 104.25"/>
<text class="d" x="1151" y="110.55" font-size="5" text-anchor="middle">2 POSN ON ø144 PCD</text>
<path class="g" d="M1122.5 104.25L1060 176"/>
<text class="d" x="1133" y="127.55" font-size="5" text-anchor="middle">R11</text>
<path class="g" d="M1122.5 130L1143.75 130"/>
<text class="d" x="1133" y="136.8" font-size="5" text-anchor="middle">2 POSN</text>
<path class="g" d="M1122.5 130L1078.75 165"/>
<path class="l" d="M900 127.5L1028 127.5"/>
<path class="l" d="M1032.5 176.6L1177 172"/>
<path class="l" d="M1042.5 307.3L1183 300.75"/>
<path class="g" d="M1176.25 172.5L1182 300.75"/>
<text class="d" x="1181.75" y="238.8" font-size="5" text-anchor="middle" transform="rotate(90 1181.75 237)">64.0</text>
<path class="g" d="M900 247.75L1142.5 247.75"/>
<text class="d" x="1138.25" y="227.55" font-size="5" text-anchor="middle" transform="rotate(-90 1138.25 225.75)">4.2</text>
<path class="g" d="M1142 219.5L1142 248"/>
<path class="g" d="M1095 239.5L1143.75 239.5"/>
<text class="d" x="1096.75" y="263.8" font-size="5" text-anchor="middle">R30</text>
<path class="g" d="M1090 265L1102.5 265"/>
<path class="g" d="M1090 265L1072.5 279.5"/>
<text class="d" x="1087.5" y="364.55" font-size="5" text-anchor="middle">R6</text>
<path class="g" d="M1081 365.75L1092.5 365.75"/>
<path class="g" d="M1081 365.75L1050 347"/>
<text class="d" x="995" y="390.8" font-size="5" text-anchor="middle">62.2</text>
<path class="g" d="M931.25 392.5L1058 392.5"/>
<path class="g" d="M1058 353L1058 393"/>
<text class="d" x="1008.75" y="228.8" font-size="5" text-anchor="middle" transform="rotate(75 1008.75 227)">65</text>
<path class="g" d="M997.53 211.15 L999.72 215.4 L1001.63 219.77 L1003.25 224.26 L1004.6 228.85 L1005.64 233.51 L1006.4 238.22 L1006.85 242.98 L1007 247.75"/>
<path class="l" d="M931.5 247.75L1077.5 166.75"/>
<path class="l" d="M931.5 247.75L1087 316.7"/>
<path class="l" d="M1059.5 160L1059.5 200"/>
<path class="l" d="M1065 283L1065 329.5"/>
<text class="d" x="895" y="189.3" font-size="5" text-anchor="middle" transform="rotate(-90 895 187.5)">59.3</text>
<text class="d" x="895" y="301.3" font-size="5" text-anchor="middle" transform="rotate(-90 895 299.5)">51.5</text>
<path class="g" d="M898 127.5L898 352"/>
<path class="g" d="M880 248.25L900 248.25"/>
<circle class="ll" cx="506.25" cy="535" r="4"/>
<circle class="ll" cx="530" cy="533.75" r="4"/>
<circle class="ll" cx="500" cy="573.75" r="4"/>
<circle class="ll" cx="553.75" cy="571.25" r="4"/>
<g clip-path="url(#cda)">
<g transform="translate(530 622) scale(1 1)" style="vector-effect:non-scaling-stroke">
<use href="#ps" class="k2" vector-effect="non-scaling-stroke"/>
<use href="#pf" class="k" vector-effect="non-scaling-stroke"/>
<use href="#plh" class="k" vector-effect="non-scaling-stroke"/>
<use href="#pk" class="k" vector-effect="non-scaling-stroke"/>
<use href="#ph" class="k" vector-effect="non-scaling-stroke"/>
<circle r="45" class="k" vector-effect="non-scaling-stroke"/>
<circle r="47" class="k" vector-effect="non-scaling-stroke"/>
</g>
<path class="k" d="M470 571.5L494.25 571.5"/>
<path class="k" d="M556.75 571.5L590 571.5"/>
</g>
<g clip-path="url(#cpa)">
<path class="k" d="M479.25 520.75 L479.25 675.75 L585.25 675.75 L585.25 520.75"/>
</g>
<path class="l" d="M495 520.75L542.5 520.75"/>
<text class="d" x="477" y="548.8" font-size="5" text-anchor="middle">R50.0</text>
<path class="g" d="M467.5 550.75L508.75 550.75"/>
<path class="g" d="M508.75 550.75L530 621.75"/>
<text class="d" x="426.75" y="579.3" font-size="5" text-anchor="middle" transform="rotate(-90 426.75 577.5)">87.0</text>
<path class="g" d="M430.5 533.75L430.5 622"/>
<text class="d" x="437.5" y="598.05" font-size="5" text-anchor="middle" transform="rotate(-90 437.5 596.25)">50.0</text>
<path class="g" d="M441.25 571.25L441.25 622"/>
<text class="d" x="449.25" y="600.55" font-size="5" text-anchor="middle" transform="rotate(-90 449.25 598.75)">45.5</text>
<path class="g" d="M453 575.75L453 622"/>
<path class="g" d="M428.75 533.75L500 533.75"/>
<path class="g" d="M440 571.25L550 571.25"/>
<path class="g" d="M451.25 575.75L500 575.75"/>
<path class="g" d="M428.75 622L585 622"/>
<path class="g" d="M530 500L530 685"/>
<path class="l" d="M499.25 474L499.25 521"/>
<path class="l" d="M505.5 474L505.5 521"/>
<g clip-path="url(#cdb)">
<g transform="translate(921.25 490) scale(2.03 2.03)" style="vector-effect:non-scaling-stroke">
<use href="#pcc" class="ll" vector-effect="non-scaling-stroke"/>
<use href="#ps" class="k2" vector-effect="non-scaling-stroke"/>
<use href="#pf" class="k" vector-effect="non-scaling-stroke"/>
<use href="#plh" class="k" vector-effect="non-scaling-stroke"/>
<use href="#pk" class="k" vector-effect="non-scaling-stroke"/>
<use href="#ph" class="k" vector-effect="non-scaling-stroke"/>
<circle r="45" class="k" vector-effect="non-scaling-stroke"/>
<circle r="47" class="k" vector-effect="non-scaling-stroke"/>
</g>
<path class="k2" d="M780 591.25L1030 591.25"/>
</g>
<g clip-path="url(#cpb)">
<path class="g" d="M712.5 690.5L1094.7 690.5"/>
<path class="k2" d="M712.5 678.5L1094.7 678.5"/>
<path class="k" d="M712.7 678.5L712.7 690.5"/>
<path class="k" d="M1094.5 678.5L1094.5 690.5"/>
<path class="g" d="M1000 476.6L1050 476.6"/>
</g>
<path class="g" d="M780 489.2L1175 489.2"/>
<path class="g" d="M921.25 477L921.25 738.75"/>
<path class="g" d="M1106.7 489.2L1106.7 604"/>
<text class="d" x="1102.7" y="548.3" font-size="5" text-anchor="middle" transform="rotate(-90 1102.7 546.5)">56.4</text>
<path class="g" d="M1121.8 489.2L1121.8 607.7"/>
<text class="d" x="1118.4" y="550.3" font-size="5" text-anchor="middle" transform="rotate(-90 1118.4 548.5)">58.3</text>
<path class="g" d="M1138.9 489.2L1138.9 611.7"/>
<text class="d" x="1135.3" y="552.3" font-size="5" text-anchor="middle" transform="rotate(-90 1135.3 550.5)">60.3</text>
<path class="g" d="M1156 489.2L1156 658"/>
<text class="d" x="1152" y="575.5" font-size="5" text-anchor="middle" transform="rotate(-90 1152 573.7)">82.9</text>
<path class="g" d="M1172.7 489.2L1172.7 668"/>
<text class="d" x="1169" y="580.5" font-size="5" text-anchor="middle" transform="rotate(-90 1169 578.7)">87.9</text>
<path class="l" d="M900 604L1106.7 604"/>
<path class="l" d="M900 607.7L1121.8 607.7"/>
<path class="l" d="M1004 611.7L1138.9 611.7"/>
<path class="l" d="M1029.3 658L1156 658"/>
<path class="l" d="M1057.9 668L1172.7 668"/>
<text class="d" x="878.25" y="699.8" font-size="5" text-anchor="middle">14.3</text>
<text class="d" x="952.5" y="699.8" font-size="5" text-anchor="middle">10.9</text>
<path class="g" d="M870 701.75L965 701.75"/>
<text class="d" x="892" y="711.3" font-size="5" text-anchor="middle">28.3</text>
<text class="d" x="962" y="711.3" font-size="5" text-anchor="middle">40.8</text>
<path class="g" d="M863.75 713L1004.6 713"/>
<text class="d" x="867.5" y="723.8" font-size="5" text-anchor="middle">52.1</text>
<text class="d" x="974.5" y="723.8" font-size="5" text-anchor="middle">52.9</text>
<path class="g" d="M815 725.75L1029.3 725.75"/>
<text class="d" x="849.25" y="736.05" font-size="5" text-anchor="middle">70.7</text>
<text class="d" x="988.75" y="736.05" font-size="5" text-anchor="middle">66.7</text>
<path class="g" d="M777.5 737.5L1057.9 737.5"/>
<path class="l" d="M892.5 607.5L892.5 701.75"/>
<path class="l" d="M943.75 602.5L943.75 701.75"/>
<path class="l" d="M863.75 663L863.75 713"/>
<path class="l" d="M1004.6 612L1004.6 713"/>
<path class="l" d="M815.75 658L815.75 725.75"/>
<path class="l" d="M1029.3 658.3L1029.3 726"/>
<path class="l" d="M777.5 668L777.5 737.5"/>
<path class="l" d="M1057.9 669.4L1057.9 738.7"/>
<path class="ll" d="M780 607.5L1100 607.5"/>
<path class="ll" d="M780 611L1100 611"/>
<path class="ll" d="M780 657.5L1100 657.5"/>
<path class="ll" d="M842.5 540L842.5 660"/>
<text class="d" x="875.75" y="524.3" font-size="5" text-anchor="middle" transform="rotate(-40 875.75 522.5)">R50.0</text>
<path class="l" d="M921.25 490L850 552"/>
<text class="d" x="928.75" y="543.05" font-size="5" text-anchor="middle" transform="rotate(90 928.75 541.25)">R50.0</text>
<text class="d" x="974.5" y="519.8" font-size="5" text-anchor="middle">R10</text>
<path class="g" d="M968.75 521.25L981.25 521.25"/>
<path class="g" d="M981.25 521.25L1003.75 610"/>
<text class="d" x="970.75" y="549.3" font-size="5" text-anchor="middle">R7.5</text>
<path class="g" d="M962.5 550.75L978.75 550.75"/>
<path class="g" d="M962.5 550.75L943.75 602.5"/>
<text class="d" x="881.25" y="546.8" font-size="5" text-anchor="middle">R10</text>
<path class="g" d="M875 548.25L887.5 548.25"/>
<path class="g" d="M875 548.25L833.75 575"/>
<text class="d" x="890.5" y="560.55" font-size="5" text-anchor="middle">R5</text>
<path class="g" d="M886.25 562L894.75 562"/>
<path class="g" d="M886.25 562L842.5 617.5"/>
<text class="d" x="907.5" y="562.3" font-size="5" text-anchor="middle">R10</text>
<path class="g" d="M901.25 563.75L912.5 563.75"/>
<path class="g" d="M901.25 563.75L892.5 607.5"/>
<text class="d" x="752.5" y="704.3" font-size="5" text-anchor="middle">R5</text>
<path class="g" d="M748.75 705.75L758.75 705.75"/>
<path class="g" d="M758.75 705.75L776.25 670"/>
<text class="d" x="845.75" y="699.8" font-size="5" text-anchor="middle">R7.5</text>
<path class="g" d="M838.75 701.25L853.75 701.25"/>
<path class="g" d="M853.75 701.25L862.5 662.5"/>
<text class="d" x="831.75" y="711.3" font-size="5" text-anchor="middle">R10</text>
<path class="g" d="M826.25 713L838 713"/>
<path class="g" d="M826.25 713L815.75 658.75"/>
<text class="d" x="1016.7" y="696.3" font-size="5" text-anchor="middle">R10</text>
<path class="g" d="M1010 697L1023 697"/>
<path class="g" d="M1023 697L1029.3 659.3"/>
<text class="d" x="1089.6" y="708.4" font-size="5" text-anchor="middle">R5</text>
<path class="g" d="M1084.6 709.6L1095 709.6"/>
<path class="g" d="M1084.6 709.6L1057.9 669.4"/>
<path class="l" d="M1024 548.5L1090 548.5"/>
<path class="l" d="M1055.7 520L1055.7 578"/>
<path class="k" d="M320 476.75 L340 480 L336.25 505 L306.25 502 L309.25 482.5 L320 476.75"/>
<path class="k" d="M320 476.75 L317.5 491.25 L306.25 502"/>
<path class="k" d="M317.5 491.25L337.5 494.5"/>
<path class="k" d="M306.25 502 L301.25 532.5 L298 545 L292.5 555 L246.25 628.75 L243 651.25 L235 700 L337.5 700 L342.5 666.25 L346.25 655"/>
<path class="k" d="M336.25 505 L330 540 L328.75 560 L346.25 655"/>
<path class="k" d="M292.5 552 L289.5 560 L247.5 630 L243.5 651"/>
<path class="k2" d="M290 566 L249 634"/>
<path class="k2" d="M286 580 L252 636"/>
<path class="k" d="M330 545 L333 575 L345 641 L342.5 666"/>
<path class="k2" d="M331 580 L343.5 648"/>
<circle class="k" cx="298" cy="624.7" r="3"/>
<circle class="k" cx="318.25" cy="628" r="3"/>
<text class="d" x="334.5" y="456.05" font-size="5" text-anchor="middle" transform="rotate(8 334.5 454.25)">10.0</text>
<text class="d" x="360" y="459.3" font-size="5" text-anchor="middle" transform="rotate(8 360 457.5)">15</text>
<path class="g" d="M323.75 455L375 462.5"/>
<path class="g" d="M323.75 455L296 641.5"/>
<path class="g" d="M343.75 458.75L316 640"/>
<path class="g" d="M374.25 462.5L347.5 641.5"/>
<text class="d" x="242" y="549.3" font-size="5" text-anchor="middle" transform="rotate(-80 242 547.5)">66.3</text>
<path class="g" d="M255 481.75L233.75 615"/>
<path class="g" d="M255 481.75L317.5 491.25"/>
<path class="g" d="M233.75 615L350 632"/>
<path class="l" d="M235 631.25L357.5 650"/>
<path class="l" d="M283 563L340 571.5"/>
<path class="l" d="M278 572L338 581"/>
<path class="l" d="M250 601L352 617"/>
<path class="l" d="M283 622L332 630"/>
<text class="d" x="368.75" y="681.8" font-size="5" text-anchor="middle">3.15</text>
<text class="d" x="368.75" y="687.55" font-size="5" text-anchor="middle">3.05</text>
<path class="g" d="M355 689.25L377.5 689.25"/>
<text class="d" x="367" y="696.3" font-size="5" text-anchor="middle">2 POSN</text>
<path class="g" d="M355 689.25L320 630"/>
<path class="k2" d="M80 456.2L90.6 450.5L135.6 476L139.4 501"/>
<path class="k2" d="M80 456.2 L119 476 L124.4 482 L135.6 476"/>
<path class="k2" d="M124.4 482 L127.4 503 L124 545 L123.6 567 L126.5 600 L127.5 612"/>
<path class="k2" d="M80 456.2 L77.8 476 L60.5 522.6 L58.3 545 L50.8 567 L38 590 L29.5 610 L30 640 L50 660 L71 663.5 L85 658 L85.5 647"/>
<ellipse class="k2" cx="88.3" cy="471.2" rx="2.2" ry="3" transform="rotate(-25 88.3 471.2)"/>
<ellipse class="k2" cx="116.8" cy="487.7" rx="2.2" ry="3" transform="rotate(-25 116.8 487.7)"/>
<path class="k2" d="M78.87 491.08A2 2 0 0 1 82.5 490.92L111.85 548.25A3 3 0 0 1 110.98 552.02L108.53 553.85A3 3 0 0 1 105.31 554.09L67.17 533.63A3 3 0 0 1 65.68 531.71L64.66 527.63A2 2 0 0 1 64.74 526.4Z"/>
<path class="k2" d="M96.29 500.37A2 2 0 0 1 99.17 499.2L120.42 510.91A2 2 0 0 1 121.46 512.73L120.53 538.16A2 2 0 0 1 119.88 539.57L117.75 541.5A2.76 2.76 0 0 1 113.4 540.64L95.83 503.7A2 2 0 0 1 95.72 502.26Z"/>
<path class="l" d="M77.8 476L126 503"/>
<path class="l" d="M79 470L127 497"/>
<path class="l" d="M66 531L96 514"/>
<path class="l" d="M70 538L100 521"/>
<ellipse class="k2" cx="78" cy="506" rx="1.6" ry="1" transform="rotate(-35 78 506)"/>
<ellipse class="k2" cx="85.5" cy="501.5" rx="1.6" ry="1" transform="rotate(-35 85.5 501.5)"/>
<ellipse class="k2" cx="91" cy="581" rx="46" ry="32" transform="rotate(55 91 581)"/>
<ellipse class="k2" cx="91.5" cy="581" rx="43.5" ry="29.5" transform="rotate(55 91.5 581)"/>
<path class="k2" d="M93.5 544.5C108 560 121 580 125 597"/>
<ellipse class="k2" cx="74" cy="553.5" rx="1.6" ry="2.6" transform="rotate(25 74 553.5)"/>
<path class="k2" d="M48.93 583.69A4 4 0 0 1 55.07 583.69L61.7 591.64A3 3 0 0 1 62.18 592.43L65.31 600.09A3 3 0 0 1 63.54 604.05L45.79 610.36A3 3 0 0 1 42.66 609.66L38.71 605.71A3 3 0 0 1 37.86 604.01L37.19 599.32A3 3 0 0 1 37.85 596.98Z"/>
<path class="k2" d="M48.41 618.35A2 2 0 0 1 49.67 615.37L62.87 612.27A2 2 0 0 1 64.79 612.85L69.87 618.32A2 2 0 0 1 70.38 619.93L69.36 628.13A2 2 0 0 1 66.44 629.65L50.5 621.26A2 2 0 0 1 49.71 620.52Z"/>
<path class="k2" d="M75.2 618.72A2 2 0 0 1 78.21 616.89L91.97 624.98A2 2 0 0 1 92.03 625.02L102.33 631.64A2 2 0 0 1 101.81 635.24L85.01 640.2A2 2 0 0 1 83.18 639.84L77.03 634.84A3 3 0 0 1 75.93 632.67Z"/>
<path class="k2" d="M33 592L38 595"/>
<ellipse class="k2" cx="37" cy="631" rx="2.2" ry="3" transform="rotate(-25 37 631)"/>
<ellipse class="k2" cx="66" cy="648" rx="2.2" ry="3" transform="rotate(-25 66 648)"/>
<path class="k2" d="M71 663.5 L73.5 650 L85.5 647"/>
<path class="l" d="M32 612L74 648"/>
<path class="l" d="M40 585L60 574"/>
<path class="l" d="M55 640L100 615"/>
<path class="k2" d="M106 634 L115 642 L128 662 L150 695 L157 706.5 L163 710 L176 703 L176.5 680 L167 632 L165 628"/>
<path class="k2" d="M85.5 647 L95 646 L110 640 L117 643"/>
<path class="k2" d="M163 710 L163.5 686 L176.5 680"/>
<path class="k2" d="M163.5 686L148 660"/>
<path class="k2" d="M119.42 644.57A1.23 1.23 0 0 1 121 642.75L125.65 645.31A2 2 0 0 1 126.25 645.81L151.12 676.9A1.58 1.58 0 0 1 151 679L151 679A1.58 1.58 0 0 1 148.9 679.12L140.2 672.16A2 2 0 0 1 139.85 671.8Z"/>
<ellipse class="k2" cx="147" cy="694" rx="1.6" ry="2.2"/>
<ellipse class="k2" cx="157.5" cy="700.5" rx="1.6" ry="2.2"/>
<path class="k2" d="M161 549C162.33 550.17 167 553.17 169 556C171 558.83 173.17 563 173 566C172.83 569 170.17 571.5 168 574C165.83 576.5 161.17 578 160 581C158.83 584 159.17 588.33 161 592C162.83 595.67 168.67 599.17 171 603C173.33 606.83 174.83 611.5 175 615C175.17 618.5 173.67 621.83 172 624C170.33 626.17 167.5 626.67 165 628C162.5 629.33 158.33 631.33 157 632"/>
<path class="l" d="M158 552C159.17 553.33 163.25 557.17 165 560C166.75 562.83 168.67 566.17 168.5 569C168.33 571.83 165.92 574.33 164 577C162.08 579.67 157.92 581.83 157 585C156.08 588.17 156.83 592.33 158.5 596C160.17 599.67 165.08 603.33 167 607C168.92 610.67 170.17 614.67 170 618C169.83 621.33 166.67 625.5 166 627"/>
<ellipse class="k2" cx="161" cy="564" rx="2.4" ry="3.5" transform="rotate(-20 161 564)"/>
<ellipse class="k2" cx="163.5" cy="618.5" rx="2.4" ry="3.5" transform="rotate(-20 163.5 618.5)"/>
<ellipse class="k2" cx="142.5" cy="593" rx="1.8" ry="2.6" transform="rotate(25 142.5 593)"/>
<path class="l" d="M144 549 L147 585 L152 625 L154 637"/>
<path class="l" d="M152 549 L156 582 L150 600 L160 630"/>
<path class="l" d="M127 598L150 585"/>
<path class="l" d="M128 612L156 596"/>
<path class="l" d="M130 638L160 621"/>
<text class="t" x="173.25" y="383.19" font-size="10.25" text-anchor="middle">SECTION VIEW C-C</text>
<text class="t" x="81.5" y="713.19" font-size="10.25" text-anchor="middle">ISOMETRIC VIEW</text>
<text class="t" x="80.75" y="722.88" font-size="7.3" text-anchor="middle">N.T.S.</text>
<text class="t" x="298.25" y="731.19" font-size="10.25" text-anchor="middle">AUXILIARY VIEW D</text>
<text class="t" x="298.25" y="740.63" font-size="7.3" text-anchor="middle">SCALE 2:1</text>
<text class="t" x="533.75" y="705.69" font-size="10.25" text-anchor="middle">DETAIL A</text>
<text class="t" x="533.75" y="715.63" font-size="7.3" text-anchor="middle">UPPER POCKET DEFINITION</text>
<text class="t" x="925" y="751.94" font-size="10.25" text-anchor="middle">DETAIL B</text>
<text class="t" x="925" y="761.38" font-size="7.3" text-anchor="middle">LOWER POCKET DEFINITION</text>
<text class="t" x="925" y="770.13" font-size="7.3" text-anchor="middle">SCALE 2:1</text>
<text class="t" x="1000.2" y="417.69" font-size="10.25" text-anchor="middle">DETAIL VIEW</text>
<text class="t" x="1000.3" y="427.63" font-size="7.3" text-anchor="middle">BRAKE CALIPER MOUNT DEFINITION</text>
<text class="t" x="998.5" y="437.13" font-size="7.3" text-anchor="middle">SCALE 2:1</text>
<g clip-path="url(#csil)">
<rect x="330" y="170" width="700" height="510" fill="#0606aa"/>
<g filter="url(#jagb)">
<rect x="330" y="170" width="700" height="510" fill="#0606aa"/>
<path d="M760 325 L768 334.5 L805 348.75 L835 354.5 L880 372.5 L940 396 L992 421.5 L1018.5 433.3 L950 470 L952.5 503.75 L940 497.5 L915 493.75 L865 491.25 L827.5 493.75 L813.5 496.5 L798.3 502 L789 513.5 L781.3 532.4 L775 556 L778 520 L786 490 L794 455 L798 430 L790 400 L778 372 L762 350Z" fill="#1b7bd6"/>
<path d="M762.56 347.59C769.03 346.55 792.21 358.87 802.66 362.63C813.1 366.39 821.66 366.39 825.21 370.15C828.76 373.91 826.05 380.59 823.96 385.19C821.87 389.78 816.65 396.47 812.68 397.72C808.71 398.97 802.87 395.21 800.15 392.71C797.44 390.2 799.73 384.98 796.39 382.68C793.05 380.38 785.53 381.22 780.1 378.92C774.67 376.62 766.73 374.12 763.81 368.9C760.89 363.68 756.08 348.64 762.56 347.59Z" fill="#0606aa"/>
<path d="M800.15 347.59C805.16 346.76 830.64 353.23 840.25 356.37C849.86 359.5 855.71 362.63 857.79 366.39C859.88 370.15 856.33 376 852.78 378.92C849.23 381.85 840.88 385.4 836.49 383.93C832.11 382.47 830.85 373.91 826.47 370.15C822.08 366.39 814.56 365.14 810.18 361.38C805.79 357.62 795.14 348.43 800.15 347.59Z" fill="#18e6f2"/>
<path d="M852.78 363.88C858.21 362.63 875.76 370.99 890.38 376.42C905 381.85 927.13 391.04 940.5 396.47C953.87 401.9 963.68 405.03 970.58 409C977.47 412.97 983.53 417.77 981.85 420.28C980.18 422.78 969.11 423.83 960.55 424.04C951.99 424.24 939.67 424.04 930.48 421.53C921.29 419.02 913.77 412.76 905.41 409C897.06 405.24 888.29 403.15 880.35 398.97C872.41 394.8 862.39 389.78 857.79 383.93C853.2 378.09 847.35 365.14 852.78 363.88Z" fill="#2cc84a"/>
<path d="M890.38 382.68C893.72 381.22 906.25 385.61 915.44 388.95C924.63 392.29 938.83 398.76 945.51 402.73C952.2 406.7 956.37 410.25 955.54 412.76C954.7 415.26 947.18 418.19 940.5 417.77C933.82 417.35 922.96 413.59 915.44 410.25C907.92 406.91 899.57 402.31 895.39 397.72C891.21 393.12 887.03 384.14 890.38 382.68Z" fill="#9adf20"/>
<path d="M902.91 391.45C905 389.78 916.69 393.12 922.96 395.21C929.22 397.3 937.08 401.27 940.5 403.98C943.93 406.7 945.6 409.96 943.51 411.5C941.42 413.05 933.48 414.3 927.97 413.26C922.46 412.21 914.6 408.87 910.43 405.24C906.25 401.6 900.82 393.12 902.91 391.45Z" fill="#f2e616"/>
<path d="M915.44 398.97C917.11 397.59 926.63 399.06 930.48 400.73C934.32 402.4 938.5 406.99 938.5 409C938.5 411 933.48 412.76 930.48 412.76C927.47 412.76 922.96 411.29 920.45 409C917.94 406.7 913.77 400.35 915.44 398.97Z" fill="#f28a12"/>
<path d="M924.96 404.74C925.59 403.4 931.14 403.82 932.98 404.74C934.82 405.66 936.62 408.91 935.99 410.25C935.36 411.59 931.06 413.68 929.22 412.76C927.39 411.84 924.34 406.07 924.96 404.74Z" fill="#e01a0c" opacity="0.95"/>
<path d="M960.55 420.28C967.23 418.19 975.17 415.26 980.6 415.26C986.03 415.26 991.46 417.35 993.13 420.28C994.8 423.2 995.22 428.63 990.63 432.81C986.03 436.98 973.08 442.41 965.56 445.34C958.05 448.26 951.36 450.98 945.51 450.35C939.67 449.72 931.31 445.34 930.48 441.58C929.64 437.82 935.49 431.35 940.5 427.79C945.51 424.24 953.87 422.36 960.55 420.28Z" fill="#18e6f2"/>
<path d="M880.35 405.24C884.53 404.82 894.55 411.5 900.4 415.26C906.25 419.02 914.6 423.62 915.44 427.79C916.27 431.97 909.59 439.91 905.41 440.33C901.24 440.74 895.39 434.06 890.38 430.3C885.36 426.54 877.01 421.95 875.34 417.77C873.67 413.59 876.17 405.66 880.35 405.24Z" fill="#18e6f2" opacity="0.9"/>
<path d="M811.43 401.48C814.44 400.14 822.08 404.19 830.23 407.24C838.37 410.29 849.44 413.63 860.3 419.77C871.16 425.91 885.99 438.15 895.39 444.09C904.79 450.02 913.56 451.19 916.69 455.36C919.82 459.54 918.57 468.1 914.19 469.15C909.8 470.19 899.77 465.39 890.38 461.63C880.98 457.87 868.24 452.44 857.79 446.59C847.35 440.74 835.32 431.76 827.72 426.54C820.12 421.32 814.9 419.44 812.18 415.26C809.47 411.09 808.42 402.82 811.43 401.48Z" fill="#2cc84a"/>
<path d="M825.21 412.76C830.23 412.67 846.93 417.44 857.79 422.78C868.65 428.13 883.07 439.2 890.38 444.84C897.69 450.48 903.32 454.78 901.65 456.62C899.98 458.45 888.91 458.91 880.35 455.86C871.79 452.82 859.05 443.75 850.28 438.32C841.5 432.89 831.9 427.54 827.72 423.28C823.54 419.02 820.2 412.84 825.21 412.76Z" fill="#f2e616"/>
<path d="M854.04 427.29C858.21 427.34 878.14 436.82 885.36 441.08C892.59 445.34 897.39 450.39 897.39 452.86C897.39 455.32 891.55 457.87 885.36 455.86C879.18 453.86 865.52 445.59 860.3 440.83C855.08 436.07 849.86 427.25 854.04 427.29Z" fill="#f28a12"/>
<path d="M881.6 443.58C882.73 442.25 891 444.8 893.38 446.59C895.76 448.39 897.02 453.02 895.89 454.36C894.76 455.7 889 456.41 886.62 454.61C884.24 452.82 880.48 444.92 881.6 443.58Z" fill="#e01a0c" opacity="0.95"/>
<path d="M811.43 421.53C817.07 418.4 828.76 434.9 840.25 441.58C851.74 448.26 867.82 456.62 880.35 461.63C892.88 466.64 907.92 469.77 915.44 471.65C922.96 473.53 922.54 468.1 925.46 472.91C928.39 477.71 934.65 496.63 932.98 500.48C931.31 504.32 926.72 497.34 915.44 495.96C904.16 494.59 879.93 492.41 865.31 492.21C850.69 492 837.12 493.12 827.72 494.71C818.32 496.3 812.47 507.45 808.92 501.73C805.37 496.01 806 473.74 806.42 460.38C806.83 447.01 805.79 424.66 811.43 421.53Z" fill="#2cc84a"/>
<path d="M926.72 470.4C929.64 465.18 947.39 462.17 951.78 467.89C956.17 473.62 955.96 499.52 953.03 504.74C950.11 509.96 938.62 504.95 934.24 499.22C929.85 493.5 923.79 475.62 926.72 470.4Z" fill="#22b4dc"/>
<path d="M817.69 483.43C823.12 481.26 840.67 482.6 852.78 482.93C864.9 483.27 882.44 484.19 890.38 485.44C898.31 486.69 900.82 488.91 900.4 490.45C899.98 492 897.89 494.21 887.87 494.71C877.84 495.21 851.53 493.25 840.25 493.46C828.97 493.67 823.96 497.64 820.2 495.96C816.44 494.29 812.26 485.61 817.69 483.43Z" fill="#9adf20"/>
<path d="M822.71 486.69C826.88 485.31 840.67 485.65 850.28 485.94C859.88 486.23 876.17 487.19 880.35 488.45C884.53 489.7 882.02 492.83 875.34 493.46C868.65 494.09 848.6 492.08 840.25 492.21C831.9 492.33 828.14 495.13 825.21 494.21C822.29 493.29 818.53 488.07 822.71 486.69Z" fill="#f2e616" opacity="0.9"/>
<path d="M797 427C800.17 420.33 808 422.83 810 430C812 437.17 810 458.33 809 470C808 481.67 806.83 493 804 500C801.17 507 795.33 507 792 512C788.67 517 786.17 524.5 784 530C781.83 535.5 780.33 543.33 779 545C777.67 546.67 775.33 546.67 776 540C776.67 533.33 780.5 516.67 783 505C785.5 493.33 788.67 483 791 470C793.33 457 793.83 433.67 797 427Z" fill="#0606aa"/>
<path d="M777.59 385.19C780.73 381.43 791.38 383.52 793.88 392.71C796.39 401.9 793.47 424.87 792.63 440.33C791.8 455.78 791.38 473.74 788.87 485.44C786.37 497.13 781.56 505.49 777.59 510.5C773.63 515.51 766.32 523.87 765.06 515.51C763.81 507.16 768.4 477.08 770.08 460.38C771.75 443.67 773.83 427.79 775.09 415.26C776.34 402.73 774.46 388.95 777.59 385.19Z" fill="#1b7bd6"/>
<path d="M762.56 405.24C765.06 399.81 779.06 402.73 782.61 407.74C786.16 412.76 786.37 429.88 783.86 435.31C781.35 440.74 771.12 445.34 767.57 440.33C764.02 435.31 760.05 410.67 762.56 405.24Z" fill="#2cc84a" opacity="0.85"/>
<path d="M915.44 427.79C920.45 424.04 939.25 424.04 945.51 427.79C951.78 431.55 952.41 442.83 953.03 450.35C953.66 457.87 953.03 469.57 949.27 472.91C945.51 476.25 936.12 474.16 930.48 470.4C924.84 466.64 917.94 457.45 915.44 450.35C912.93 443.25 910.43 431.55 915.44 427.79Z" fill="#2aa2e6" opacity="0.9"/>
<path d="M951.03 469.9 L990.63 446.59 L1018.7 432.81 L1005.66 425.79 L978.1 417.77 L958.05 450.35Z" fill="#1b7bd6"/>
<path d="M973.08 440.33C979.77 434.48 998.23 428.96 1005.66 427.79C1013.1 426.62 1020.2 429.55 1017.69 433.31C1015.19 437.07 999.31 445.42 990.63 450.35C981.94 455.28 968.49 464.55 965.56 462.88C962.64 461.21 966.4 446.17 973.08 440.33Z" fill="#0606aa"/>
<path d="M951.78 450.35C953.03 447.43 962.01 442.83 965.56 442.83C969.11 442.83 974.34 447.43 973.08 450.35C971.83 453.27 961.6 460.38 958.05 460.38C954.49 460.38 950.53 453.27 951.78 450.35Z" fill="#0606aa" opacity="0.9"/>
<path d="M950.53 470.4 L1018.2 432.81 L1018.95 468.4 L953.03 504.74Z" fill="#0808a2"/>
<path d="M760.4 329.79C763.32 328.12 767.5 334.18 775.44 337.31C783.38 340.45 803.84 343.58 808.02 348.59C812.2 353.6 805.93 365.09 800.5 367.39C795.07 369.69 781.7 359.03 775.44 362.38C769.17 365.72 767.08 379.08 762.91 387.44C758.73 395.79 754.14 406.24 750.38 412.5C746.62 418.77 743.27 425.45 740.35 425.03C737.43 424.61 731.16 418.77 732.83 409.99C734.5 401.22 746.2 382.84 750.38 372.4C754.55 361.96 756.22 354.44 757.89 347.34C759.57 340.24 757.48 331.47 760.4 329.79Z" fill="#2aa2e6"/>
<path d="M765.41 337.31C768.76 335.64 784.42 339.74 790.48 342.33C796.53 344.92 802.59 349.51 801.75 352.85C800.92 356.19 790.69 362.46 785.46 362.38C780.24 362.29 773.77 356.53 770.43 352.35C767.08 348.17 762.07 338.98 765.41 337.31Z" fill="#18e6f2"/>
<path d="M762.91 358.62C769.59 356.95 791.52 361.12 800.5 363.63C809.48 366.14 816.79 369.48 816.79 373.65C816.79 377.83 807.39 387.02 800.5 388.69C793.61 390.36 782.12 386.19 775.44 383.68C768.76 381.17 762.49 377.83 760.4 373.65C758.31 369.48 756.22 360.29 762.91 358.62Z" fill="#0606aa"/>
<path d="M760.4 392.45C763.74 386.19 772.01 384.1 775.44 387.44C778.86 390.78 781.79 406.24 780.95 412.5C780.12 418.77 774.69 422.94 770.43 425.03C766.17 427.12 757.06 430.46 755.39 425.03C753.72 419.6 757.06 398.72 760.4 392.45Z" fill="#18e6f2"/>
<path d="M767.42 399.97C768.25 396.13 773.6 394.54 775.44 397.46C777.28 400.39 779.28 413.67 778.45 417.51C777.61 421.36 772.26 423.45 770.43 420.52C768.59 417.6 766.58 403.81 767.42 399.97Z" fill="#2cc84a"/>
<path d="M537.38 497.36C539.16 495.13 545.17 491.35 549.4 497.36C553.63 503.36 558.52 522.06 562.75 533.4C566.98 544.75 569.87 555.21 574.77 565.45C579.66 575.68 587.67 586.81 592.12 594.82C596.57 602.83 596.8 607.06 601.47 613.51C606.14 619.96 620.16 629.53 620.16 633.54C620.16 637.54 608.14 640.88 601.47 637.54C594.79 634.21 584.89 620.63 580.11 613.51C575.32 606.39 576.1 602.61 572.76 594.82C569.43 587.03 563.31 574.35 560.08 566.78C556.85 559.22 556.07 555.66 553.4 549.43C550.73 543.2 546.51 535.85 544.06 529.4C541.61 522.95 539.83 516.05 538.72 510.71C537.61 505.37 535.6 499.58 537.38 497.36Z" fill="#1a5aa4"/>
<path d="M558.74 474.66C560.53 469.32 570.76 469.32 574.77 474.66C578.77 480 580.55 496.91 582.78 506.7C585 516.49 586.34 524.5 588.12 533.4C589.9 542.31 591.68 549.87 593.46 560.11C595.24 570.34 596.57 585.92 598.8 594.82C601.02 603.72 607.7 610.4 606.81 613.51C605.92 616.63 596.13 616.63 593.46 613.51C590.79 610.4 592.12 602.83 590.79 594.82C589.45 586.81 588.56 575.68 585.45 565.45C582.33 555.21 575.66 543.2 572.1 533.4C568.54 523.61 566.31 516.49 564.09 506.7C561.86 496.91 556.96 480 558.74 474.66Z" fill="#1c62ae"/>
<path d="M547.57 410.03C553 409.19 571.8 413.37 577.64 420.05C583.49 426.73 580.15 439.68 582.66 450.13C585.16 460.57 588.09 468.92 592.68 482.71C597.28 496.49 605.63 521.14 610.23 532.83C614.82 544.53 616.49 545.78 620.25 552.88C624.01 559.98 635.71 570.84 632.78 575.44C629.86 580.03 609.39 584.63 602.71 580.45C596.02 576.27 596.02 560.4 592.68 550.38C589.34 540.35 588.09 534.92 582.66 520.3C577.23 505.68 566.37 478.53 560.1 462.66C553.83 446.78 547.15 433.83 545.06 425.06C542.97 416.29 542.14 410.86 547.57 410.03Z" fill="#18e6f2"/>
<path d="M552.58 415.04C555.92 413.37 570.54 417.54 575.14 422.56C579.73 427.57 581.82 440.52 580.15 445.11C578.48 449.71 569.29 452.21 565.11 450.13C560.94 448.04 557.18 438.43 555.09 432.58C553 426.73 549.24 416.71 552.58 415.04Z" fill="#1b7bd6"/>
<path d="M577.64 495.24C579.31 491.06 591.01 494.4 595.19 500.25C599.37 506.1 604.38 526.15 602.71 530.33C601.04 534.5 589.34 531.16 585.16 525.31C580.99 519.47 575.97 499.42 577.64 495.24Z" fill="#2aa2e6"/>
<path d="M595.19 535.34C597.69 532.83 605.21 536.17 610.23 540.35C615.24 544.53 621.92 554.55 625.26 560.4C628.6 566.25 631.95 572.01 630.28 575.44C628.6 578.86 619.83 581.7 615.24 580.95C610.64 580.2 606.05 575.19 602.71 570.93C599.37 566.67 596.44 561.32 595.19 555.39C593.93 549.46 592.68 537.84 595.19 535.34Z" fill="#2cc84a"/>
<path d="M645.31 425.06C652 421.09 687.5 424.23 695.44 426.32C703.38 428.4 696.27 433.63 692.93 437.59C689.59 441.56 680.82 438.85 675.39 450.13C669.96 461.4 663.48 487.51 660.35 505.26C657.22 523.02 660.43 549.12 656.59 556.64C652.75 564.16 639.59 558.1 637.29 550.38C635 542.65 639.8 526.98 642.81 510.28C645.81 493.57 654.92 464.33 655.34 450.13C655.76 435.92 638.63 429.03 645.31 425.06Z" fill="#18e6f2"/>
<path d="M645.31 425.06C651.16 422.14 687.92 423.81 695.44 426.32C702.96 428.82 696.27 437.18 690.43 440.1C684.58 443.02 667.87 446.37 660.35 443.86C652.83 441.35 639.47 427.99 645.31 425.06Z" fill="#1b7bd6"/>
<path d="M670.38 457.64C673.38 451.8 681.24 453.05 680.9 470.18C680.57 487.3 672.13 545.36 668.37 560.4C664.61 575.44 659.26 569.59 658.35 560.4C657.43 551.21 660.85 522.39 662.86 505.26C664.86 488.14 667.37 463.49 670.38 457.64Z" fill="#14709c"/>
<path d="M682.91 432.58C685.41 427.57 696.61 429.66 700.45 435.09C704.29 440.52 706.8 458.48 705.96 465.16C705.13 471.85 698.86 475.19 695.44 475.19C692.01 475.19 687.5 472.26 685.41 465.16C683.32 458.06 680.4 437.59 682.91 432.58Z" fill="#18e6f2"/>
<path d="M685.41 465.16C687.59 458.48 700.45 459.31 705.96 465.16C711.48 471.01 714.74 491.48 718.5 500.25C722.26 509.02 728.1 511.03 728.52 517.79C728.94 524.56 724.85 537.84 721 540.85C717.16 543.86 710.14 541.77 705.46 535.84C700.79 529.91 696.27 517.04 692.93 505.26C689.59 493.48 683.24 471.85 685.41 465.16Z" fill="#2cc84a"/>
<path d="M692.93 472.68C694.6 469.76 701.62 472.26 705.46 477.69C709.31 483.12 713.4 498.58 715.99 505.26C718.58 511.95 721.42 513.53 721 517.79C720.58 522.06 716.49 530.83 713.48 530.83C710.48 530.83 705.96 523.73 702.96 517.79C699.95 511.86 697.11 502.76 695.44 495.24C693.77 487.72 691.26 475.61 692.93 472.68Z" fill="#f2e616"/>
<path d="M705.46 495.24C705.96 492.65 713.4 501.84 715.99 505.26C718.58 508.69 721.5 513.2 721 515.79C720.5 518.38 715.57 524.23 712.98 520.8C710.39 517.38 704.96 497.83 705.46 495.24Z" fill="#f28a12"/>
<path d="M713.98 505.26C714.61 504.39 719.16 508.35 720.5 510.28C721.84 512.2 722.63 515.91 722.01 516.79C721.38 517.67 718.08 517.46 716.74 515.54C715.41 513.62 713.36 506.14 713.98 505.26Z" fill="#e01a0c" opacity="0.95"/>
<path d="M680.4 530.33C682.49 525.65 692.01 522.81 695.44 525.31C698.86 527.82 701.37 539.85 700.95 545.36C700.53 550.88 695.94 557.06 692.93 558.4C689.92 559.73 685 558.06 682.91 553.38C680.82 548.71 678.31 535 680.4 530.33Z" fill="#2cc84a"/>
<path d="M684.16 540.35C685.2 537.13 692.22 534.92 694.19 536.59C696.15 538.26 696.98 547.16 695.94 550.38C694.9 553.59 689.88 557.56 687.92 555.89C685.96 554.22 683.12 543.57 684.16 540.35Z" fill="#f2e616"/>
<path d="M682.91 550.38C683.74 548.87 688.92 546.99 690.43 547.87C691.93 548.75 692.77 554.14 691.93 555.64C691.09 557.14 686.92 557.77 685.41 556.89C683.91 556.02 682.07 551.88 682.91 550.38Z" fill="#e01a0c" opacity="0.9"/>
<path d="M715.49 517.79C720.5 514.87 728.02 521.55 735.54 522.81C743.06 524.06 755.51 520.72 760.6 525.31C765.7 529.91 769.46 545.28 766.12 550.38C762.77 555.47 748.15 555.81 740.55 555.89C732.95 555.97 726.35 553.47 720.5 550.88C714.65 548.29 706.3 545.86 705.46 540.35C704.63 534.84 710.48 520.72 715.49 517.79Z" fill="#18e6f2"/>
<path d="M720.5 525.31C723.01 522.31 736.37 524.9 740.55 527.82C744.73 530.74 748.07 539.85 745.56 542.86C743.06 545.86 729.69 548.79 725.51 545.86C721.34 542.94 717.99 528.32 720.5 525.31Z" fill="#2cc84a"/>
<path d="M778.15 415.04C781.99 412.95 795.69 417.13 798.7 425.06C801.7 433 799.11 449.29 796.19 462.66C793.27 476.02 785.33 492.31 781.15 505.26C776.98 518.21 774.55 531.91 771.13 540.35C767.7 548.79 763.19 559.23 760.6 555.89C758.01 552.55 754.34 533.75 755.59 520.3C756.84 506.85 764.78 488.97 768.12 475.19C771.46 461.4 773.97 447.62 775.64 437.59C777.31 427.57 774.3 417.13 778.15 415.04Z" fill="#18e6f2"/>
<path d="M745.56 457.64C749.74 452.63 763.86 455.97 768.12 460.15C772.38 464.33 772.8 476.78 771.13 482.71C769.46 488.64 762.77 494.49 758.1 495.74C753.42 496.99 745.15 496.57 743.06 490.23C740.97 483.88 741.39 462.66 745.56 457.64Z" fill="#1b7bd6"/>
<path d="M753.08 467.67C755.17 464.75 764.99 466 766.87 468.92C768.75 471.85 766.45 482.29 764.36 485.21C762.27 488.14 756.22 489.39 754.34 486.47C752.46 483.54 750.99 470.59 753.08 467.67Z" fill="#2cc84a" opacity="0.9"/>
<path d="M753.08 400C763.4 397.49 808.85 393.73 820 400C831.15 406.27 823.63 432.16 820 437.59C816.37 443.02 805.17 436.34 798.2 432.58C791.22 428.82 784.83 417.96 778.15 415.04C771.46 412.11 762.27 417.54 758.1 415.04C753.92 412.53 742.77 402.51 753.08 400Z" fill="#18e6f2"/>
<path d="M760.6 400C765.2 396.66 780.57 396.24 785.66 400C790.76 403.76 793.68 416.62 791.18 422.56C788.67 428.49 776.14 436.01 770.63 435.59C765.11 435.17 759.77 425.98 758.1 420.05C756.42 414.12 756.01 403.34 760.6 400Z" fill="#2cc84a"/>
<path d="M795.69 400C798.91 397.49 815.95 396.16 820 400C824.05 403.84 823.22 420.55 820 423.06C816.78 425.56 804.75 418.88 800.7 415.04C796.65 411.19 792.47 402.51 795.69 400Z" fill="#2cc84a"/>
<path d="M611 606 L672 636 L789 573 L728 543Z" fill="#1b7bd6"/>
<path d="M617.64 572.58C624.33 566.23 649.72 566.32 660.25 567.57C670.78 568.82 677.79 573.75 680.8 580.1C683.81 586.45 684.64 600.15 678.3 605.66C671.95 611.18 652.4 613.18 642.71 613.18C633.02 613.18 624.33 612.43 620.15 605.66C615.97 598.9 610.96 578.93 617.64 572.58Z" fill="#18e6f2"/>
<path d="M627.77 562.91C632.78 557.81 651.08 559.57 660.35 560.4C669.62 561.24 680.07 563.66 683.41 567.92C686.75 572.18 685.08 581.7 680.4 585.96C675.72 590.23 663.69 592.65 655.34 593.48C646.98 594.32 634.87 596.07 630.28 590.98C625.68 585.88 622.76 568 627.77 562.91Z" fill="#18e6f2"/>
<path d="M622.66 585.11C623.91 580.85 636.36 576.76 642.71 577.59C649.06 578.43 662.01 585.86 660.75 590.13C659.5 594.39 641.54 603.99 635.19 603.16C628.84 602.32 621.4 589.37 622.66 585.11Z" fill="#2cc84a"/>
<path d="M630.28 575.44C631.95 571.6 645.23 571.26 650.33 572.93C655.42 574.6 662.52 581.62 660.85 585.46C659.18 589.31 645.4 597.66 640.3 595.99C635.2 594.32 628.6 579.28 630.28 575.44Z" fill="#2cc84a"/>
<path d="M642.71 613.18C648.22 604.75 669.52 586.45 680.8 580.1C692.08 573.75 695.76 578.43 710.38 575.09C725 571.75 755.28 560.47 768.52 560.05C781.76 559.63 795.34 565.81 789.82 572.58C784.31 579.35 752.86 592.21 735.44 600.65C718.02 609.09 699.93 618.2 685.31 623.21C670.69 628.22 654.82 632.4 647.72 630.73C640.62 629.06 637.19 621.62 642.71 613.18Z" fill="#1b7bd6"/>
<path d="M611.38 640.25C607.28 633.48 637.57 625.13 647.72 630.23C657.87 635.32 678.34 669.16 672.28 670.83C666.22 672.5 615.47 647.02 611.38 640.25Z" fill="#1040b0" opacity="0.9"/>
<path d="M695.34 612.68 L722.91 598.9 L789.82 572.58 L789.82 606.92 L672.28 671.33 L648.22 630.73 L672.78 622.71Z" fill="#0808a2"/>
<path d="M692.93 552.88C695.44 550.29 707.05 548.71 710.48 550.38C713.9 552.05 715.99 560.32 713.48 562.91C710.98 565.5 698.86 567.59 695.44 565.91C692.01 564.24 690.43 555.47 692.93 552.88Z" fill="#0606aa"/>
<path d="M740.55 567.92C744.73 563.66 762.4 559.57 770.63 560.4C778.86 561.24 789.92 567.84 789.92 572.93C789.92 578.03 778.02 588.81 770.63 590.98C763.23 593.15 750.58 589.81 745.56 585.96C740.55 582.12 736.37 572.18 740.55 567.92Z" fill="#0606aa"/>
</g>
<path d="M963.56 471.9C964.23 471.03 968.78 468.6 969.57 468.65C970.37 468.69 968.99 471.28 968.32 472.16C967.65 473.03 966.36 473.95 965.56 473.91C964.77 473.87 962.89 472.78 963.56 471.9Z" fill="#22a8dc"/>
<path d="M971.08 467.52C971.75 466.64 976.3 464.22 977.09 464.26C977.89 464.3 976.51 466.89 975.84 467.77C975.17 468.65 973.88 469.57 973.08 469.52C972.29 469.48 970.41 468.4 971.08 467.52Z" fill="#22a8dc"/>
<path d="M978.6 463.13C979.26 462.26 983.82 459.83 984.61 459.87C985.41 459.92 984.03 462.51 983.36 463.38C982.69 464.26 981.4 465.18 980.6 465.14C979.81 465.1 977.93 464.01 978.6 463.13Z" fill="#22a8dc"/>
<path d="M986.12 458.75C986.78 457.87 991.34 455.45 992.13 455.49C992.92 455.53 991.55 458.12 990.88 459C990.21 459.87 988.91 460.79 988.12 460.75C987.33 460.71 985.45 459.62 986.12 458.75Z" fill="#22a8dc"/>
<path d="M993.63 454.36C994.3 453.48 998.86 451.06 999.65 451.1C1000.44 451.14 999.06 453.73 998.4 454.61C997.73 455.49 996.43 456.41 995.64 456.37C994.85 456.32 992.97 455.24 993.63 454.36Z" fill="#22a8dc"/>
<path d="M1001.15 449.97C1001.82 449.1 1006.37 446.68 1007.17 446.72C1007.96 446.76 1006.58 449.35 1005.91 450.23C1005.25 451.1 1003.95 452.02 1003.16 451.98C1002.36 451.94 1000.48 450.85 1001.15 449.97Z" fill="#22a8dc"/>
<path d="M1008.67 445.59C1009.34 444.71 1013.89 442.29 1014.69 442.33C1015.48 442.37 1014.1 444.96 1013.43 445.84C1012.77 446.72 1011.47 447.64 1010.68 447.59C1009.88 447.55 1008 446.47 1008.67 445.59Z" fill="#22a8dc"/>
<rect x="330" y="170" width="700" height="510" fill="url(#mesh)"/>
<path d="M341.3 242.5 L381 277.5 L395 287.5 L465 324.5 L513.75 372 L510.5 410 L506 445 L502.5 476 L470 445 L448.75 420 L440 405 L417.5 372 L375 309.5 L357.5 287 L337.5 270.75Z" fill="url(#gside0)"/>
<path d="M465 324.5 L513.75 372 L510.5 410 L506 445 L502.5 476 L470 445 L448.75 420 L440 405 L430 390Z" fill="url(#gside)"/>
<path d="M513.75 372 L520 377 L530 383 L541 388 L548 396 L552 420 L556 450 L545 470 L522.5 495 L502.5 476 L506 445 L510.5 410Z" fill="url(#gcyl)"/>
<g clip-path="url(#cbin)">
<path d="M759.5 353.08 L758.34 364.1 L755.08 374.91 L749.77 385.34 L742.51 395.19 L733.42 404.3 L722.66 412.51 L710.4 419.69 L696.86 425.72 L682.27 430.48 L666.88 433.9 L650.95 435.92 L634.76 436.5 L618.58 435.63 L602.7 433.34 L587.37 429.65 L572.86 424.64 L559.43 418.38 L547.3 410.98 L536.68 402.58 L527.75 393.31 L520.66 383.34 L515.54 372.82 L512.47 361.96 L511.5 350.92 L512.66 339.9 L515.92 329.09 L521.23 318.66 L528.49 308.81 L537.58 299.7 L548.34 291.49 L560.6 284.31 L574.14 278.28 L588.73 273.52 L604.12 270.1 L620.05 268.08 L636.24 267.5 L652.42 268.37 L668.3 270.66 L683.63 274.35 L698.14 279.36 L711.57 285.62 L723.7 293.02 L734.32 301.42 L743.25 310.69 L750.34 320.66 L755.46 331.18 L758.53 342.04 L759.5 353.08Z" fill="url(#gband)"/>
<path d="M754.39 356.67 L752.94 366.6 L749.49 376.27 L744.1 385.52 L736.86 394.19 L727.89 402.13 L717.35 409.2 L705.42 415.28 L692.3 420.27 L678.22 424.09 L663.42 426.66 L648.14 427.95 L632.66 427.93 L617.24 426.6 L602.14 423.99 L587.61 420.13 L573.92 415.1 L561.28 408.99 L549.93 401.89 L540.05 393.93 L531.81 385.24 L525.35 375.97 L520.78 366.29 L518.19 356.35 L517.61 346.33 L519.06 336.4 L522.51 326.73 L527.9 317.48 L535.14 308.81 L544.11 300.87 L554.65 293.8 L566.58 287.72 L579.7 282.73 L593.78 278.91 L608.58 276.34 L623.86 275.05 L639.34 275.07 L654.76 276.4 L669.86 279.01 L684.39 282.87 L698.08 287.9 L710.72 294.01 L722.07 301.11 L731.95 309.07 L740.19 317.76 L746.65 327.03 L751.22 336.71 L753.81 346.65 L754.39 356.67Z" fill="url(#gbore)"/>
<path d="M754.39 356.67 L752.94 366.6 L749.49 376.27 L744.1 385.52 L736.86 394.19 L727.89 402.13 L717.35 409.2 L705.42 415.28 L692.3 420.27 L678.22 424.09 L663.42 426.66 L648.14 427.95 L632.66 427.93 L617.24 426.6 L602.14 423.99 L587.61 420.13 L573.92 415.1 L561.28 408.99 L549.93 401.89 L540.05 393.93 L531.81 385.24 L525.35 375.97 L520.78 366.29 L518.19 356.35 L517.61 346.33 L519.06 336.4 L522.51 326.73 L527.9 317.48 L535.14 308.81 L544.11 300.87 L554.65 293.8 L566.58 287.72 L579.7 282.73 L593.78 278.91 L608.58 276.34 L623.86 275.05 L639.34 275.07 L654.76 276.4 L669.86 279.01 L684.39 282.87 L698.08 287.9 L710.72 294.01 L722.07 301.11 L731.95 309.07 L740.19 317.76 L746.65 327.03 L751.22 336.71 L753.81 346.65 L754.39 356.67Z" fill="url(#gboreh)"/>
<path d="M754.39 356.67 L752.94 366.6 L749.49 376.27 L744.1 385.52 L736.86 394.19 L727.89 402.13 L717.35 409.2 L705.42 415.28 L692.3 420.27 L678.22 424.09 L663.42 426.66 L648.14 427.95 L632.66 427.93 L617.24 426.6 L602.14 423.99 L587.61 420.13 L573.92 415.1 L561.28 408.99 L549.93 401.89 L540.05 393.93 L531.81 385.24 L525.35 375.97 L520.78 366.29 L518.19 356.35 L517.61 346.33 L519.06 336.4 L522.51 326.73 L527.9 317.48 L535.14 308.81 L544.11 300.87 L554.65 293.8 L566.58 287.72 L579.7 282.73 L593.78 278.91 L608.58 276.34 L623.86 275.05 L639.34 275.07 L654.76 276.4 L669.86 279.01 L684.39 282.87 L698.08 287.9 L710.72 294.01 L722.07 301.11 L731.95 309.07 L740.19 317.76 L746.65 327.03 L751.22 336.71 L753.81 346.65 L754.39 356.67Z" fill="url(#gborer)"/>
<g filter="url(#jagb)">
<path d="M590.25 365.31C589.42 361.14 594.43 350.07 597.77 345.26C601.11 340.46 604.87 338.16 610.3 336.49C615.73 334.82 623.67 334.82 630.35 335.24C637.03 335.66 644.55 336.91 650.4 339C656.25 341.09 661.05 344.64 665.44 347.77C669.82 350.9 675.25 354.04 676.72 357.79C678.18 361.55 676.51 367.4 674.21 370.33C671.91 373.25 668.57 375.34 662.93 375.34C657.29 375.34 647.48 371.37 640.38 370.33C633.27 369.28 626.59 369.07 620.33 369.07C614.06 369.07 607.79 370.95 602.78 370.33C597.77 369.7 591.09 369.49 590.25 365.31Z" fill="#3e8fd6" opacity="0.92"/>
<path d="M695.51 365.31C695.93 364.06 701.36 363.22 703.03 364.06C704.7 364.9 705.96 369.07 705.54 370.33C705.12 371.58 702.2 372.41 700.53 371.58C698.86 370.74 695.1 366.57 695.51 365.31Z" fill="#3e8fd6" opacity="0.9"/>
<path d="M620.33 367.82C620.33 366.9 626.59 365.1 630.35 365.31C634.11 365.52 642.88 368.15 642.88 369.07C642.88 369.99 634.11 371.04 630.35 370.83C626.59 370.62 620.33 368.74 620.33 367.82Z" fill="#30c8c8" opacity="0.8"/>
</g>
<rect x="500" y="250" width="290" height="180" fill="url(#mesh)" mask="url(#mbore)"/>
</g>
<path d="M344.5 227.5 L358.75 218.75 L435 178 L456.25 177.5 L507.5 206.25 L527.5 213.75 L600 229.5 L626 234.5 L655 250 L680 264.5 L715 283 L740 302 L760 324.5 L768 334.5 L768 343 L759.45 350.13 L758.64 342.67 L756.87 335.27 L754.15 328.01 L750.5 320.94 L745.95 314.11 L740.53 307.58 L734.29 301.39 L727.27 295.6 L719.54 290.26 L711.14 285.4 L702.15 281.06 L692.64 277.27 L682.68 274.08 L672.35 271.49 L661.74 269.53 L650.91 268.23 L639.97 267.57 L628.99 267.58 L618.06 268.26 L607.27 269.59 L596.7 271.56 L586.43 274.17 L576.55 277.38 L567.13 281.18 L558.25 285.54 L549.97 290.42 L542.37 295.78 L535.49 301.58 L529.4 307.77 L524.14 314.32 L519.75 321.15 L516.27 328.23 L513.73 335.5 L512.14 342.9 L511.51 350.36 L511.86 357.85 L513.18 365.28 L515.46 372.61 L518.68 379.78 L522.81 386.73 L513.75 372 L465 324.5 L395 287.5 L381 277.5 L341.3 242.5Z" fill="#e7e7fc"/>
<path d="M465 324.5 L513.75 372 L520 377 L530 383 L541 388 L520.26 382.65 L516.94 376.2 L514.4 369.59 L512.65 362.87 L511.69 356.08 L511.54 349.26 L512.2 342.46 L513.66 335.72 L515.92 329.09Z" fill="#e6e6fc"/>
<path d="M750 312 L760 324.5 L768 334.5 L785 342 L780 352 L770 350 L762 340Z" fill="url(#gtopr)"/>
<path d="M465.5 260.25A2.91 2.91 0 0 1 464.73 254.96L515.45 223.65A3 3 0 0 1 517.7 223.27L578.76 237.2A4.5 4.5 0 0 1 578.42 246.04L472.62 261.91A3 3 0 0 1 471.39 261.84Z" fill="#a5a5d3"/>
<path d="M509 228.5 L517 224 L529 227 L526.5 252 L508.5 255.2Z" fill="#a9a9d8"/>
<path d="M420.23 284.55A4 4 0 0 1 421.62 277.18L585.23 249.13A3 3 0 0 1 586.73 249.26L601.65 254.48A2.66 2.66 0 0 1 602.5 259L599.55 261.53A3 3 0 0 1 598.29 262.17L580.81 266.31A6 6 0 0 0 579.28 266.9L562.26 276.36A8 8 0 0 0 561.75 276.66L544.53 287.98A8 8 0 0 1 544.47 288.02L529.24 297.85A8 8 0 0 0 528.77 298.17L515.73 307.95A8 8 0 0 0 514.41 309.2L507.08 317.91A5 5 0 0 0 506.93 318.09L501.7 324.93A4 4 0 0 1 498.52 326.5L491.39 326.5A5 5 0 0 1 488.81 325.79Z" fill="#a5a5d3"/>
<path d="M413.5 280.5 L423 276.5 L424.5 290 L419 288Z" fill="#b4b4e0"/>
<path d="M584.5 251 L597 252 L604 256.5 L599 264 L585.5 266Z" fill="#aeaedc"/>
<ellipse cx="383" cy="246.5" rx="8.4" ry="5.2" fill="#a3a3d2" transform="rotate(-3 383 246.5)"/>
<ellipse cx="459" cy="204.5" rx="8.2" ry="5" fill="#a3a3d2" transform="rotate(-3 459 204.5)"/>
</g>
<path class="e" d="M513.75 372 L465 324.5 L395 287.5 L381 277.5 L341.3 242.5 L344.5 227.5 L358.75 218.75 L435 178 L456.25 177.5 L507.5 206.25 L527.5 213.75 L600 229.5 L626 234.5 L655 250 L680 264.5 L715 283 L740 302 L760 324.5 L768 334.5"/>
<path class="e" d="M341.3 242.5 L337.5 270.75 L357.5 287 L375 309.5 L417.5 372 L440 405 L448.75 420 L470 445 L490 463"/>
<path class="e" d="M513.75 372 L510.5 410 L506 445 L503 470"/>
<path class="e" d="M507.5 206.25L381 277.5"/>
<path class="e" d="M527.5 213.75L395 287.5"/>
<path class="e" d="M465 324.5L477 318"/>
<path class="e" d="M747.57 388.69 L751.57 382.27 L754.78 375.65 L757.17 368.87 L758.73 361.97 L759.45 355 L759.32 348.01 L758.34 341.05 L756.52 334.16 L753.88 327.4 L750.42 320.8 L746.18 314.42 L741.18 308.29 L735.46 302.47 L729.05 296.98 L722.01 291.87 L714.37 287.17 L706.2 282.91 L697.54 279.12 L688.45 275.84 L679.01 273.07 L669.26 270.85 L659.29 269.18 L649.15 268.08 L638.92 267.55 L628.67 267.59 L618.46 268.22 L608.37 269.42 L598.46 271.18 L588.81 273.5 L579.48 276.35 L570.53 279.72 L562.02 283.59 L554.02 287.92 L546.58 292.69 L539.74 297.87 L533.56 303.42 L528.07 309.3 L523.32 315.47 L519.34 321.89 L516.15 328.52 L513.78 335.31 L512.24 342.21 L511.55 349.18 L511.7 356.17 L512.7 363.13 L514.54 370.01 L517.2 376.77 L520.68 383.36 L524.94 389.74 L529.96 395.86"/>
<path class="e" d="M724.54 404.59 L731.19 399.47 L737.07 393.97 L742.16 388.13 L746.41 382.01 L749.78 375.64 L752.25 369.08 L753.8 362.38 L754.42 355.6 L754.1 348.79 L752.85 341.99 L750.67 335.27 L747.58 328.68 L743.61 322.27 L738.79 316.09 L733.15 310.19 L726.75 304.62 L719.62 299.42 L711.83 294.64 L703.45 290.3 L694.53 286.45 L685.14 283.11 L675.37 280.31 L665.28 278.08 L654.97 276.43 L644.5 275.37 L633.96 274.92 L623.44 275.07 L613.03 275.83 L602.79 277.18 L592.81 279.13 L583.18 281.65 L573.97 284.72 L565.24 288.32 L557.08 292.42 L549.54 296.99 L542.69 301.99 L536.58 307.38 L531.25 313.12 L526.75 319.16 L523.12 325.47 L520.38 331.97 L518.56 338.63 L517.66 345.4 L517.71 352.21 L518.69 359.02 L520.59 365.76 L523.42 372.4 L527.13 378.87 L531.71 385.12 L537.11 391.1"/>
<path class="e" d="M541 387.5C543 386.33 549 382.42 553 380.5C557 378.58 560.5 377.37 565 376C569.5 374.63 575 373.3 580 372.3C585 371.3 588.33 370.5 595 370C601.67 369.5 610.83 368.88 620 369.3C629.17 369.72 640 370.55 650 372.5C660 374.45 670.42 377.25 680 381C689.58 384.75 700.42 390.83 707.5 395C714.58 399.17 720 404.17 722.5 406"/>
<path class="e" d="M465.5 260.25A2.91 2.91 0 0 1 464.73 254.96L515.45 223.65A3 3 0 0 1 517.7 223.27L578.76 237.2A4.5 4.5 0 0 1 578.42 246.04L472.62 261.91A3 3 0 0 1 471.39 261.84Z"/>
<path class="e" d="M509 228.5L508.5 255.2"/>
<path class="e" d="M529 227L526.5 252"/>
<path class="e" d="M420.23 284.55A4 4 0 0 1 421.62 277.18L585.23 249.13A3 3 0 0 1 586.73 249.26L601.65 254.48A2.66 2.66 0 0 1 602.5 259L599.55 261.53A3 3 0 0 1 598.29 262.17L580.81 266.31A6 6 0 0 0 579.28 266.9L562.26 276.36A8 8 0 0 0 561.75 276.66L544.53 287.98A8 8 0 0 1 544.47 288.02L529.24 297.85A8 8 0 0 0 528.77 298.17L515.73 307.95A8 8 0 0 0 514.41 309.2L507.08 317.91A5 5 0 0 0 506.93 318.09L501.7 324.93A4 4 0 0 1 498.52 326.5L491.39 326.5A5 5 0 0 1 488.81 325.79Z"/>
<path class="e" d="M424.5 277L424.5 290"/>
<path class="e" d="M584.5 250.5L585.5 266"/>
<ellipse class="e" cx="383" cy="246.5" rx="8.4" ry="5.2" transform="rotate(-3 383 246.5)"/>
<ellipse class="e" cx="459" cy="204.5" rx="8.2" ry="5" transform="rotate(-3 459 204.5)"/>
<ellipse cx="433.75" cy="329" rx="2" ry="3.6" fill="#e8e8ff" stroke="#22223a" stroke-width=".6" transform="rotate(-20 433.75 329)"/>
<ellipse cx="431.25" cy="349.5" rx="2" ry="3.6" fill="#e8e8ff" stroke="#22223a" stroke-width=".6" transform="rotate(-20 431.25 349.5)"/>
<ellipse cx="535" cy="443" rx="2.6" ry="4.8" fill="#2a2ab8" stroke="#10106a" stroke-width=".5" transform="rotate(-15 535 443)"/>
<ellipse cx="717.5" cy="341" rx="3" ry="5" fill="#5a5ac8" stroke="#22227a" stroke-width=".5" transform="rotate(-15 717.5 341)"/>
<path class="e" d="M722.5 300L709 405"/>
<rect x="139.7" y="350.3" width="21.5" height="16.85" fill="#ff0000"/>
<rect x="139.7" y="366.85" width="21.5" height="16.85" fill="#ff3300"/>
<rect x="139.7" y="383.4" width="21.5" height="16.85" fill="#ff6600"/>
<rect x="139.7" y="399.95" width="21.5" height="16.85" fill="#ff9933"/>
<rect x="139.7" y="416.5" width="21.5" height="16.85" fill="#ffff00"/>
<rect x="139.7" y="433.05" width="21.5" height="16.85" fill="#92d050"/>
<rect x="139.7" y="449.6" width="21.5" height="16.85" fill="#00b050"/>
<rect x="139.7" y="466.15" width="21.5" height="16.85" fill="#339966"/>
<rect x="139.7" y="482.7" width="21.5" height="16.85" fill="#009999"/>
<rect x="139.7" y="499.25" width="21.5" height="16.85" fill="#00ccff"/>
<rect x="139.7" y="515.8" width="21.5" height="16.85" fill="#0099ff"/>
<rect x="139.7" y="532.35" width="21.5" height="16.85" fill="#2f5597"/>
<text class="b" x="150" y="312.8" font-size="10.6" text-anchor="middle" textLength="96" lengthAdjust="spacingAndGlyphs">VON MISES STRESS</text>
<text class="b" x="150" y="329.4" font-size="10.6" text-anchor="middle" textLength="30.5" lengthAdjust="spacingAndGlyphs">[MPa]</text>
<text class="t" x="27" y="764.69" font-size="10.25" text-anchor="start">NOTES:</text>
<text class="t" x="27" y="773.63" font-size="7.3" text-anchor="start">1. MATERIAL: ALUMINIUM 6061-T6.</text>
<text class="t" x="27" y="782.88" font-size="7.3" text-anchor="start">2. REMOVE ALL BURRS AND SHARP EDGES.</text>
<text class="t" x="27" y="791.63" font-size="7.3" text-anchor="start">3. FINISH: NATURAL</text>
<rect class="l" x="12.7" y="811.7" width="225.6" height="21"/>
<text class="t" x="15" y="820.9" font-size="7.2" xml:space="preserve">STARBOARD - AS DRAWN        - FS-14-074-SU-P4001-AA</text>
<text class="t" x="15" y="829.9" font-size="7.2" xml:space="preserve">PORT      - OPPOSITE HAND   - FS-14-074-SU-P3001-AA</text>
<text class="d" x="245.7" y="829.1" font-size="5" text-anchor="start" textLength="72.6">GLOBAL SURFACE FINISH OF</text>
<text class="d" x="328.3" y="822.8" font-size="5" text-anchor="middle">3.2</text>
<text class="d" x="323.5" y="831.8" font-size="5" text-anchor="middle">Ra</text>
<path class="l" d="M327.5 825.5 L330.5 831 L336 821"/>
<path class="tb" d="M342.8 772.8L1191.6 772.8"/>
<path class="tb" d="M342.8 772.8L342.8 838.3"/>
<path class="tb" d="M482.2 772.8L482.2 838.3"/>
<path class="tb" d="M648.3 772.8L648.3 838.3"/>
<path class="tb" d="M727.9 772.8L727.9 838.3"/>
<path class="tb" d="M877.3 772.8L877.3 838.3"/>
<path class="tb" d="M808.8 772.8L808.8 825.3"/>
<path class="tb" d="M342.8 798.5L1191.6 798.5"/>
<path class="tb" d="M342.8 812.4L482.2 812.4"/>
<path class="tb" d="M342.8 825.3L482.2 825.3"/>
<path class="tb" d="M648.3 812.4L1191.6 812.4"/>
<path class="tb" d="M648.3 825.3L1191.6 825.3"/>
<text class="t" x="412.5" y="782.99" font-size="10.25" text-anchor="middle">GENERAL TOLERANCES</text>
<text class="t" x="412.5" y="795.99" font-size="10.25" text-anchor="middle">AS FOLLOWS</text>
<text class="t" x="376.5" y="809.49" font-size="10.25" text-anchor="start">X. </text>
<text class="d" x="421" y="808.14" font-size="6.5" text-anchor="middle">±</text>
<text class="t" x="429.7" y="809.49" font-size="10.25" text-anchor="start">0.5</text>
<text class="t" x="376.5" y="822.39" font-size="10.25" text-anchor="start"> .X</text>
<text class="d" x="421" y="821.04" font-size="6.5" text-anchor="middle">±</text>
<text class="t" x="429.7" y="822.39" font-size="10.25" text-anchor="start">0.25</text>
<text class="t" x="376.5" y="835.89" font-size="10.25" text-anchor="start"> .XX</text>
<text class="d" x="421" y="834.54" font-size="6.5" text-anchor="middle">±</text>
<text class="t" x="429.7" y="835.89" font-size="10.25" text-anchor="start">0.125</text>
<text class="t" x="564.7" y="782.99" font-size="10.25" text-anchor="middle">ALL DIMENSIONS IN mm</text>
<text class="t" x="564.7" y="795.99" font-size="10.25" text-anchor="middle">UNLESS OTHERWISE STATED</text>
<text class="d" x="565" y="807.34" font-size="5.1" text-anchor="middle" textLength="132.7">DRG AS PER BS 8888 - THIRD ANGLE PROJECTION</text>
<circle class="g" cx="551.9" cy="824.9" r="7.3"/>
<circle class="g" cx="551.9" cy="824.9" r="4.2"/>
<circle class="g" cx="551.9" cy="824.9" r="2.6"/>
<path class="l" d="M540 824.9L564 824.9"/>
<path class="l" d="M551.9 815L551.9 835"/>
<path class="g" d="M572.5 819.5 L585 817 L585 832.8 L572.5 830.3Z"/>
<path class="l" d="M568 824.9L589 824.9"/>
<text class="t" x="687.5" y="790.09" font-size="10.25" text-anchor="middle">DRAWN BY</text>
<text class="t" x="687.5" y="809.49" font-size="10.25" text-anchor="middle">CHECKED BY</text>
<text class="t" x="687.5" y="822.39" font-size="10.25" text-anchor="middle">APPROVED BY</text>
<text class="t" x="687.5" y="835.89" font-size="10.25" text-anchor="middle">SYSTEM</text>
<text class="t" x="767.7" y="790.09" font-size="10.25" text-anchor="middle">M ALEXANDER</text>
<text class="t" x="842.2" y="789.96" font-size="9.9" text-anchor="middle">02/02/2014</text>
<text class="t" x="802" y="835.89" font-size="10.25" text-anchor="middle">SUSPENSION</text>
<text class="t" x="1033.5" y="793.24" font-size="20.4" text-anchor="middle">REAR UPRIGHT</text>
<text class="t" x="1034" y="809.49" font-size="10.25" text-anchor="middle" xml:space="preserve">UP RACING  FS-14-074-SU-P4001-AA</text>
<text class="t" x="1034" y="822.39" font-size="10.25" text-anchor="middle">WEIGHT: 1.01 kg APPROX</text>
<text class="t" x="1034" y="835.89" font-size="10.25" text-anchor="middle">PAGE SIZE: A0 - SCALE 1:1 - ISS 1</text>
<path class="tb" d="M1015.5 7.5L1015.5 62"/>
<path class="tb" d="M1015.5 14.5L1191.6 14.5"/>
<path class="tb" d="M1015.5 21.75L1191.6 21.75"/>
<path class="tb" d="M1015.5 47.5L1191.6 47.5"/>
<path class="tb" d="M1015.5 54.5L1191.6 54.5"/>
<path class="tb" d="M1015.5 62L1191.6 62"/>
<path class="tb" d="M1045 14.5L1045 62"/>
<path class="tb" d="M1062.5 14.5L1062.5 62"/>
<path class="tb" d="M1080 14.5L1080 62"/>
<path class="tb" d="M1097.5 14.5L1097.5 62"/>
<text class="d" x="1017" y="12.86" font-size="4.6" text-anchor="start" font-weight="bold">REVISION BOX</text>
<text class="d" x="1046.5" y="20.06" font-size="4.9" text-anchor="start">BY</text>
<text class="d" x="1064" y="20.06" font-size="4.9" text-anchor="start">DATE</text>
<text class="d" x="1081" y="20.06" font-size="4.9" text-anchor="start">ISSUE</text>
<text class="d" x="1099" y="20.06" font-size="4.9" text-anchor="start">DESCRIPTION</text>
<text class="d" x="1030" y="36.8" font-size="5" text-anchor="middle">DRAWN</text>
<text class="d" x="1030" y="53.05" font-size="5" text-anchor="middle">CHECKED</text>
<text class="d" x="1030" y="60.55" font-size="5" text-anchor="middle">APPROVED</text>
</svg></body></html>
